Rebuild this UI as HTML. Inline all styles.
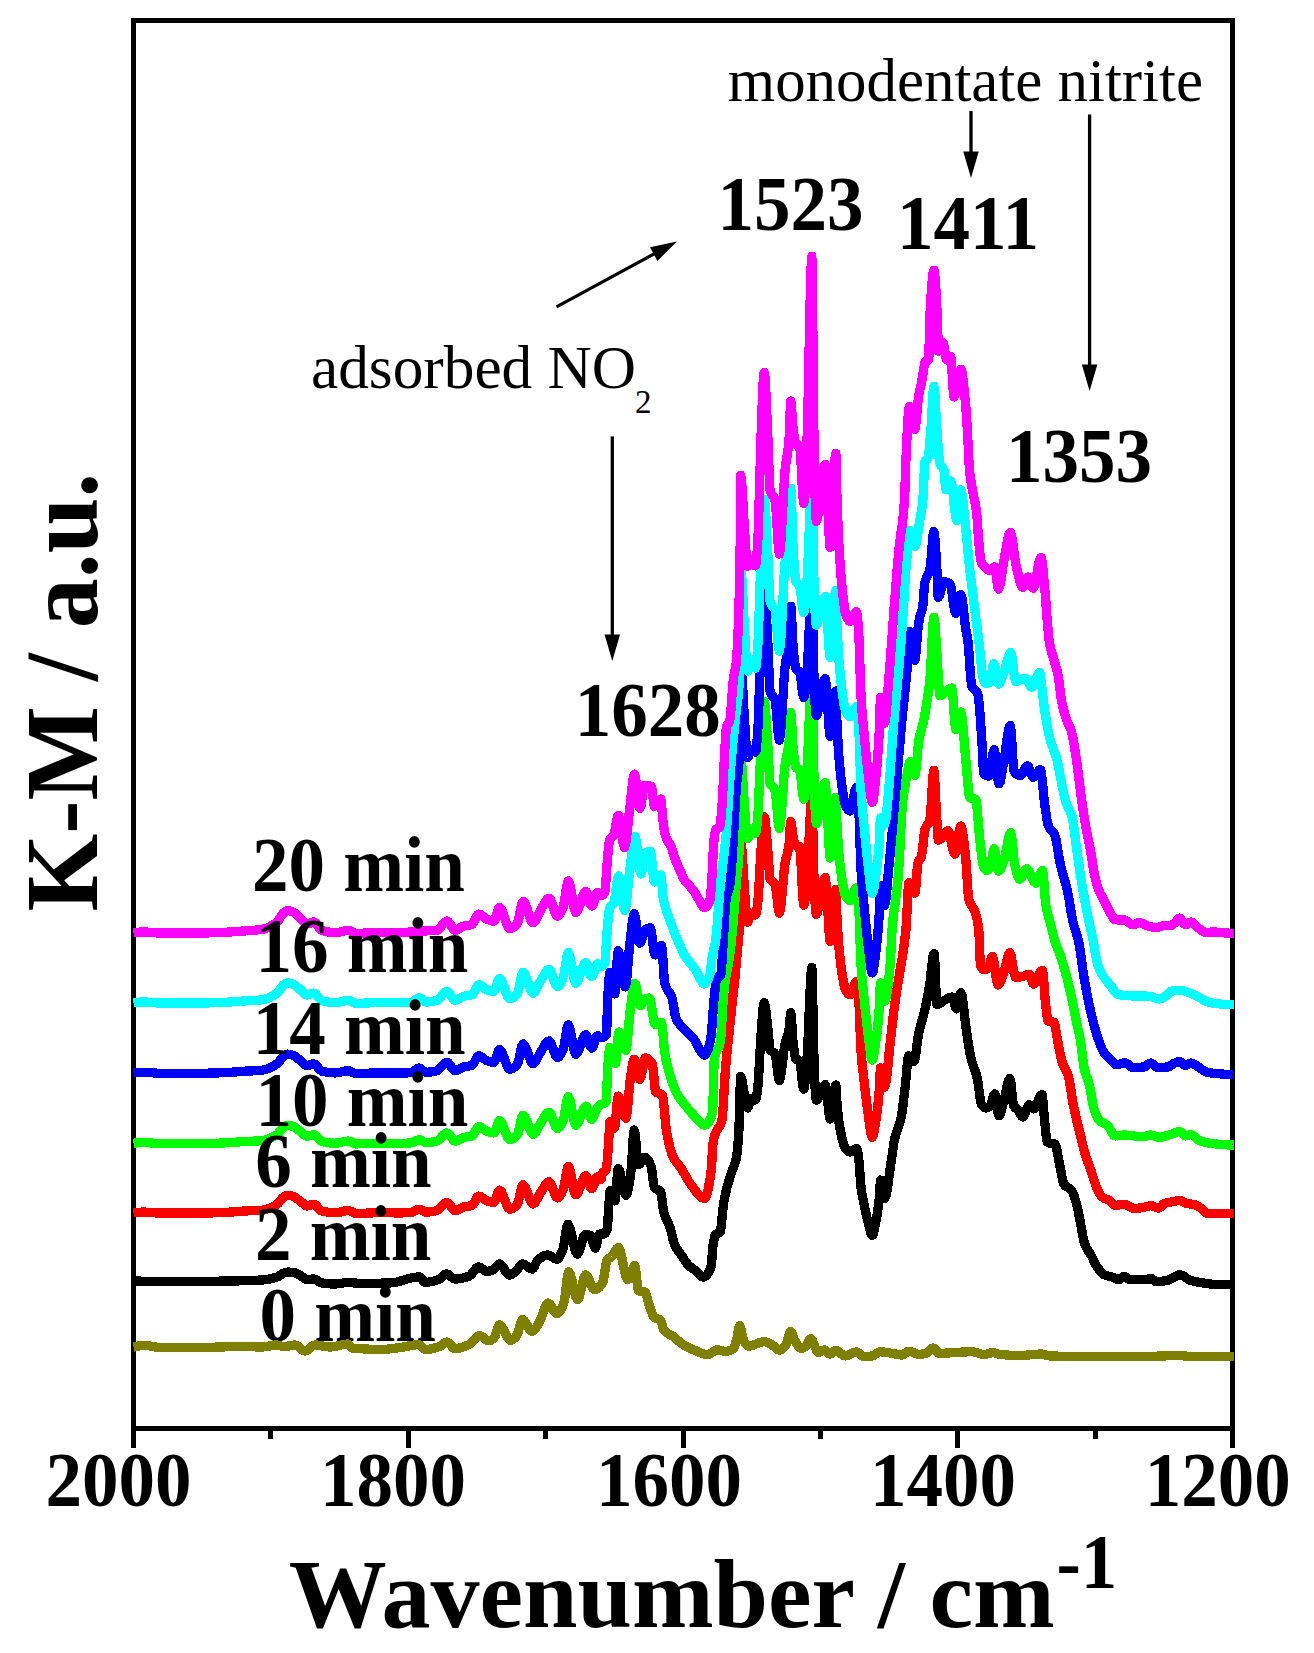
<!DOCTYPE html>
<html><head><meta charset="utf-8"><title>DRIFTS spectra</title>
<style>html,body{margin:0;padding:0;background:#fff}body{width:1314px;height:1653px;overflow:hidden}svg{display:block;position:absolute;left:0;top:0}text{font-family:"Liberation Serif",serif;fill:#000;white-space:pre}.c{fill:none;stroke-width:9.3;stroke-linejoin:round;stroke-linecap:butt}.ax{stroke:#000;fill:none}</style></head><body>
<svg width="1314" height="1653" viewBox="0 0 1314 1653">
<rect x="0" y="0" width="1314" height="1653" fill="#fff"/>
<g shape-rendering="crispEdges">
<rect x="131" y="18" width="5" height="1412" fill="#000"/>
<rect x="1230" y="18" width="5" height="1412" fill="#000"/>
<rect x="131" y="18" width="1104" height="5" fill="#000"/>
<rect x="131" y="1426" width="1104" height="4.5" fill="#000"/>
<rect x="131.0" y="1428" width="5" height="19.5" fill="#000"/>
<rect x="268.4" y="1428" width="5" height="10.5" fill="#000"/>
<rect x="405.8" y="1428" width="5" height="19.5" fill="#000"/>
<rect x="543.1" y="1428" width="5" height="10.5" fill="#000"/>
<rect x="680.5" y="1428" width="5" height="19.5" fill="#000"/>
<rect x="817.9" y="1428" width="5" height="10.5" fill="#000"/>
<rect x="955.2" y="1428" width="5" height="19.5" fill="#000"/>
<rect x="1092.6" y="1428" width="5" height="10.5" fill="#000"/>
<rect x="1230.0" y="1428" width="5" height="19.5" fill="#000"/>
</g>
<text transform="translate(259.50 1340.80) scale(1.0000 1.0600)" font-size="73" font-weight="bold">0 min</text>
<path class="c" shape-rendering="crispEdges" stroke="#808000" d="M133.5 1347.0 135.8 1346.5 138.1 1346.1 140.4 1345.8 142.7 1345.6 145.0 1345.5 148.0 1345.7 151.0 1346.2 154.0 1346.8 157.0 1347.3 160.0 1347.5 168.0 1347.5 176.0 1347.5 184.0 1347.5 192.0 1347.5 200.0 1347.5 208.0 1347.4 216.0 1347.1 224.0 1346.9 232.0 1346.6 240.0 1346.5 244.4 1346.6 248.8 1346.7 253.2 1346.8 257.6 1346.9 262.0 1347.0 265.0 1346.8 268.0 1346.3 271.0 1345.7 274.0 1345.2 277.0 1345.0 278.4 1345.2 279.8 1345.5 281.2 1346.0 282.6 1346.3 284.0 1346.5 286.2 1346.3 288.4 1346.0 290.6 1345.5 292.8 1345.2 295.0 1345.0 297.0 1345.6 299.0 1347.1 301.0 1348.9 303.0 1350.4 305.0 1351.0 307.0 1350.4 309.0 1348.9 311.0 1347.1 313.0 1345.6 315.0 1345.0 318.0 1345.2 321.0 1345.7 324.0 1346.3 327.0 1346.8 330.0 1347.0 333.6 1346.7 337.2 1345.9 340.8 1345.1 344.4 1344.3 348.0 1344.0 348.8 1344.4 349.6 1345.3 350.4 1346.5 351.2 1347.5 352.0 1348.0 353.6 1348.2 355.2 1348.3 356.8 1348.4 358.4 1348.5 360.0 1348.6 364.0 1348.9 367.9 1349.1 371.9 1349.4 375.8 1349.5 379.8 1349.6 383.8 1349.5 387.7 1349.1 391.7 1348.6 395.6 1348.1 399.6 1347.6 403.6 1347.0 407.5 1346.2 411.5 1345.5 415.4 1344.9 419.4 1344.7 420.6 1345.2 421.8 1346.4 422.9 1347.9 424.1 1349.1 425.3 1349.6 428.1 1349.4 430.8 1349.0 433.6 1348.3 436.3 1347.5 439.1 1346.6 440.7 1345.8 442.3 1344.6 443.9 1343.4 445.5 1342.5 447.1 1342.1 448.7 1342.8 450.3 1344.4 451.8 1346.3 453.4 1347.9 455.0 1348.6 457.8 1348.4 460.5 1347.8 463.3 1346.9 466.0 1345.9 468.8 1344.7 471.0 1343.2 473.2 1340.8 475.3 1338.4 477.5 1336.4 479.7 1335.6 481.5 1336.1 483.3 1337.4 485.0 1338.9 486.8 1340.2 488.6 1340.7 489.7 1340.6 490.8 1340.2 491.8 1339.6 492.9 1338.9 494.0 1338.0 495.1 1336.1 496.2 1332.7 497.3 1329.1 498.4 1326.1 499.5 1324.9 501.7 1326.5 503.9 1330.3 506.0 1334.9 508.2 1338.7 510.4 1340.3 511.6 1340.1 512.8 1339.4 514.1 1338.5 515.3 1337.3 516.5 1336.0 517.7 1333.4 518.9 1329.3 520.2 1324.8 521.4 1321.2 522.6 1319.7 524.5 1320.9 526.4 1323.8 528.3 1327.3 530.2 1330.2 532.1 1331.4 533.7 1330.7 535.3 1329.0 536.8 1326.5 538.4 1323.7 540.0 1320.9 541.6 1317.3 543.2 1312.7 544.8 1308.1 546.4 1304.5 548.0 1303.1 549.8 1304.2 551.6 1306.8 553.3 1309.9 555.1 1312.5 556.9 1313.6 558.3 1313.1 559.7 1311.6 561.0 1309.3 562.4 1306.4 563.8 1303.1 564.8 1298.2 565.8 1290.3 566.7 1281.6 567.7 1274.7 568.7 1271.8 570.5 1274.7 572.3 1281.6 574.0 1289.9 575.8 1296.8 577.6 1299.7 579.2 1297.1 580.8 1290.9 582.4 1283.6 584.0 1277.4 585.6 1274.8 587.4 1276.4 589.2 1280.1 590.9 1284.5 592.7 1288.2 594.5 1289.8 596.1 1289.5 597.7 1288.6 599.3 1287.2 600.9 1285.3 602.5 1283.0 603.5 1279.8 604.4 1274.2 605.4 1267.9 606.3 1262.5 607.3 1259.6 607.7 1259.2 608.2 1258.9 608.6 1258.6 609.1 1258.4 609.5 1258.1 610.0 1257.7 610.5 1257.3 611.0 1256.9 611.5 1256.5 612.0 1256.0 613.3 1254.3 614.6 1252.1 615.9 1249.9 617.2 1248.3 618.5 1247.6 620.3 1250.9 622.1 1258.8 624.0 1268.3 625.8 1276.2 627.6 1279.5 628.3 1279.2 629.0 1278.5 629.6 1277.4 630.3 1276.2 631.0 1275.0 631.7 1273.2 632.5 1270.7 633.2 1268.2 634.0 1266.3 634.7 1265.5 635.5 1268.1 636.3 1274.3 637.0 1281.7 637.8 1288.0 638.6 1290.8 639.9 1291.1 641.1 1291.3 642.4 1291.4 643.6 1291.6 644.9 1291.9 645.8 1293.2 646.8 1296.1 647.7 1299.7 648.7 1303.4 649.6 1306.5 650.5 1309.1 651.5 1311.8 652.4 1314.3 653.4 1316.3 654.3 1317.5 655.6 1318.2 656.8 1318.6 658.1 1319.0 659.3 1319.4 660.6 1320.2 661.2 1321.4 661.9 1323.7 662.5 1326.3 663.2 1328.6 663.8 1330.1 665.7 1332.0 667.6 1333.3 669.4 1334.3 671.3 1335.2 673.2 1336.4 675.1 1337.9 677.0 1339.6 678.8 1341.3 680.7 1342.9 682.6 1344.3 684.8 1345.6 687.0 1346.8 689.2 1347.9 691.4 1348.9 693.6 1349.8 696.4 1351.0 699.3 1352.3 702.1 1353.4 705.0 1354.2 707.8 1354.5 709.7 1354.0 711.6 1352.8 713.4 1351.5 715.3 1350.3 717.2 1349.8 718.8 1350.0 720.4 1350.4 721.9 1350.8 723.5 1351.2 725.1 1351.4 726.7 1351.3 728.3 1351.0 729.8 1350.5 731.4 1349.9 733.0 1349.0 733.7 1348.2 734.4 1346.6 735.1 1344.6 735.8 1342.3 736.5 1340.0 737.2 1337.1 737.8 1333.4 738.5 1329.6 739.1 1326.8 739.8 1325.6 740.5 1326.9 741.3 1330.0 742.0 1333.9 742.8 1337.6 743.5 1340.0 744.5 1341.9 745.5 1343.6 746.5 1344.9 747.5 1345.9 748.5 1346.2 751.6 1345.7 754.7 1344.6 757.7 1343.3 760.8 1342.2 763.9 1341.7 765.3 1341.9 766.8 1342.3 768.2 1342.8 769.7 1343.5 771.1 1344.2 772.7 1345.3 774.4 1346.8 776.0 1348.4 777.7 1349.6 779.3 1350.1 780.6 1349.8 782.0 1349.1 783.3 1348.0 784.7 1346.6 786.0 1345.0 786.9 1342.8 787.8 1339.4 788.8 1335.6 789.7 1332.6 790.6 1331.4 791.5 1332.2 792.4 1334.1 793.2 1336.6 794.1 1339.1 795.0 1341.0 796.2 1343.0 797.4 1344.9 798.5 1346.6 799.7 1347.8 800.9 1348.3 801.9 1348.2 802.9 1347.8 804.0 1347.3 805.0 1346.7 806.0 1346.0 806.9 1344.8 807.9 1343.0 808.8 1341.0 809.8 1339.4 810.7 1338.8 812.2 1340.2 813.8 1343.6 815.3 1347.6 816.9 1351.0 818.4 1352.4 819.6 1352.1 820.8 1351.5 822.1 1350.8 823.3 1350.2 824.5 1349.9 825.6 1350.3 826.7 1351.3 827.8 1352.6 828.9 1353.6 830.0 1354.0 831.2 1353.6 832.3 1352.8 833.5 1351.7 834.6 1350.9 835.8 1350.5 837.7 1351.1 839.5 1352.4 841.4 1354.0 843.2 1355.3 845.1 1355.9 847.4 1355.5 849.6 1354.5 851.9 1353.4 854.1 1352.4 856.4 1352.0 857.8 1352.5 859.3 1353.6 860.7 1354.9 862.2 1356.0 863.6 1356.5 865.3 1356.5 867.0 1356.4 868.6 1356.3 870.3 1356.2 872.0 1356.0 873.6 1355.5 875.2 1354.4 876.8 1353.2 878.4 1352.2 880.0 1351.8 882.9 1351.9 885.8 1352.3 888.6 1352.8 891.5 1353.3 894.4 1353.8 895.9 1354.1 897.4 1354.4 899.0 1354.7 900.5 1354.9 902.0 1355.0 903.4 1354.6 904.7 1353.7 906.1 1352.5 907.4 1351.6 908.8 1351.2 910.8 1351.5 912.9 1352.3 914.9 1353.3 917.0 1354.1 919.0 1354.4 920.6 1354.3 922.2 1354.1 923.8 1353.8 925.4 1353.5 927.0 1353.0 928.2 1352.2 929.4 1350.9 930.6 1349.5 931.8 1348.4 933.0 1347.9 934.3 1348.5 935.6 1349.8 937.0 1351.5 938.3 1352.8 939.6 1353.4 942.9 1353.3 946.2 1353.1 949.4 1352.9 952.7 1352.6 956.0 1352.4 959.3 1352.2 962.6 1352.1 965.8 1351.9 969.1 1351.8 972.4 1351.8 974.7 1352.1 977.0 1352.8 979.4 1353.5 981.7 1354.2 984.0 1354.5 985.8 1354.3 987.6 1353.8 989.4 1353.3 991.2 1352.8 993.0 1352.6 994.4 1352.8 995.8 1353.2 997.2 1353.7 998.6 1354.1 1000.0 1354.4 1004.0 1354.8 1008.0 1355.1 1012.0 1355.3 1016.0 1355.5 1020.0 1355.5 1024.2 1355.3 1028.4 1355.0 1032.6 1354.5 1036.8 1354.2 1041.0 1354.0 1042.8 1354.2 1044.6 1354.7 1046.4 1355.3 1048.2 1355.8 1050.0 1356.0 1060.0 1356.2 1070.0 1356.4 1080.0 1356.4 1090.0 1356.5 1100.0 1356.5 1110.0 1356.5 1120.0 1356.5 1130.0 1356.4 1140.0 1356.4 1150.0 1356.3 1156.0 1356.2 1162.0 1356.0 1168.0 1355.8 1174.0 1355.6 1180.0 1355.5 1182.0 1355.6 1184.0 1355.9 1186.0 1356.1 1188.0 1356.4 1190.0 1356.5 1198.5 1356.5 1207.0 1356.5 1215.5 1356.5 1224.0 1356.5 1232.5 1356.5 1234.3 1356.5"/>
<path class="c" shape-rendering="crispEdges" stroke="#000000" d="M133.5 1281.0 138.8 1281.1 144.1 1281.3 149.4 1281.4 154.7 1281.5 160.0 1281.5 174.0 1281.5 188.0 1281.4 202.0 1281.3 216.0 1281.2 230.0 1281.0 236.4 1280.9 242.8 1280.8 249.2 1280.6 255.6 1280.3 262.0 1280.0 265.0 1279.7 268.0 1279.3 271.0 1278.7 274.0 1277.9 277.0 1277.0 278.4 1276.4 279.8 1275.5 281.2 1274.5 282.6 1273.6 284.0 1273.0 284.8 1272.7 285.6 1272.5 286.4 1272.3 287.2 1272.2 288.0 1272.1 289.2 1272.1 290.4 1272.2 291.6 1272.3 292.8 1272.4 294.0 1272.5 295.4 1272.8 296.8 1273.5 298.2 1274.3 299.6 1275.2 301.0 1276.0 302.2 1276.8 303.4 1277.7 304.6 1278.6 305.8 1279.2 307.0 1279.5 308.3 1279.4 309.7 1279.3 311.0 1279.2 312.4 1279.1 313.7 1279.0 315.4 1279.4 317.0 1280.3 318.7 1281.4 320.3 1282.4 322.0 1283.0 324.6 1283.3 327.2 1283.6 329.8 1283.8 332.4 1284.0 335.0 1284.0 337.6 1283.8 340.2 1283.5 342.8 1283.0 345.4 1282.7 348.0 1282.5 350.4 1282.6 352.8 1282.8 355.2 1283.0 357.6 1283.2 360.0 1283.3 366.0 1283.3 372.0 1283.2 378.0 1283.2 384.0 1283.1 390.0 1283.0 395.9 1282.3 401.8 1280.7 407.6 1278.9 413.5 1277.4 419.4 1276.8 420.6 1277.4 421.8 1278.7 422.9 1280.4 424.1 1281.7 425.3 1282.3 428.1 1282.2 430.8 1281.7 433.6 1281.1 436.3 1280.3 439.1 1279.4 440.6 1278.5 442.1 1277.1 443.5 1275.5 445.0 1274.3 446.5 1273.8 448.2 1274.3 449.9 1275.6 451.6 1277.2 453.3 1278.5 455.0 1279.0 457.8 1278.9 460.5 1278.5 463.3 1278.0 466.0 1277.2 468.8 1276.4 470.8 1275.0 472.8 1272.6 474.7 1269.9 476.7 1267.8 478.7 1266.9 480.3 1267.4 481.9 1268.5 483.4 1269.8 485.0 1270.9 486.6 1271.4 487.9 1271.3 489.2 1271.1 490.4 1270.8 491.7 1270.4 493.0 1270.0 494.3 1269.1 495.6 1267.5 496.9 1265.8 498.2 1264.5 499.5 1263.9 501.5 1265.1 503.5 1267.8 505.4 1271.1 507.4 1273.8 509.4 1275.0 510.7 1274.7 512.0 1274.1 513.4 1273.1 514.7 1272.1 516.0 1271.0 517.3 1269.6 518.6 1267.8 520.0 1265.9 521.3 1264.5 522.6 1263.9 524.5 1264.4 526.4 1265.7 528.3 1267.3 530.2 1268.6 532.1 1269.1 533.3 1268.3 534.5 1266.2 535.7 1263.6 536.9 1261.2 538.1 1259.6 540.1 1258.2 542.1 1256.9 544.0 1255.9 546.0 1255.2 548.0 1255.0 549.8 1255.4 551.6 1256.5 553.3 1257.7 555.1 1258.8 556.9 1259.2 558.1 1258.7 559.3 1257.3 560.4 1255.1 561.6 1252.5 562.8 1249.7 563.8 1245.4 564.8 1238.9 565.9 1232.0 566.9 1226.5 567.9 1224.3 569.8 1227.4 571.7 1234.9 573.5 1243.7 575.4 1251.2 577.3 1254.3 578.9 1252.2 580.5 1247.3 582.0 1241.5 583.6 1236.6 585.2 1234.5 586.2 1234.5 587.1 1234.6 588.1 1234.8 589.0 1235.0 590.0 1235.3 591.1 1236.8 592.2 1240.0 593.2 1243.8 594.3 1246.8 595.4 1248.1 596.2 1246.7 597.0 1243.2 597.7 1239.1 598.5 1235.7 599.3 1234.2 600.2 1234.1 601.2 1234.1 602.1 1234.1 603.1 1234.1 604.0 1234.0 604.6 1233.8 605.3 1233.2 605.9 1232.2 606.6 1230.8 607.2 1229.0 607.5 1226.8 607.8 1222.5 608.1 1217.3 608.4 1212.0 608.7 1207.5 609.0 1203.2 609.3 1198.6 609.7 1194.4 610.0 1191.4 610.3 1190.2 611.2 1191.3 612.2 1194.0 613.1 1197.1 614.1 1199.8 615.0 1200.9 615.6 1197.5 616.3 1189.5 616.9 1179.9 617.6 1171.9 618.2 1168.5 619.8 1171.3 621.3 1178.0 622.9 1185.9 624.4 1192.6 626.0 1195.4 627.0 1194.1 627.9 1190.7 628.9 1185.7 629.8 1179.6 630.8 1172.9 631.5 1165.4 632.2 1154.4 632.8 1142.8 633.5 1133.7 634.2 1130.0 635.1 1133.6 636.0 1142.2 636.8 1152.5 637.7 1161.1 638.6 1164.7 639.9 1164.0 641.1 1162.2 642.4 1160.0 643.6 1158.2 644.9 1157.5 646.2 1157.9 647.4 1159.2 648.7 1161.1 649.9 1163.6 651.2 1166.6 651.8 1169.6 652.4 1174.5 653.1 1179.9 653.7 1184.5 654.3 1187.0 655.6 1188.4 656.8 1189.2 658.1 1189.7 659.3 1190.4 660.6 1191.8 661.2 1194.1 661.9 1198.5 662.5 1203.7 663.2 1208.7 663.8 1212.2 665.1 1216.3 666.3 1219.3 667.6 1221.9 668.8 1224.6 670.1 1227.9 671.0 1231.2 672.0 1235.0 672.9 1239.0 673.9 1242.5 674.8 1245.2 676.1 1247.7 677.3 1249.6 678.6 1251.4 679.8 1253.0 681.1 1254.7 682.7 1257.1 684.2 1259.5 685.8 1261.8 687.3 1264.0 688.9 1265.7 690.2 1266.8 691.4 1267.8 692.7 1268.6 693.9 1269.5 695.2 1270.4 696.8 1271.9 698.4 1273.7 699.9 1275.3 701.5 1276.6 703.1 1277.1 704.7 1276.7 706.2 1275.6 707.8 1273.6 709.3 1270.8 710.9 1267.2 711.4 1264.4 711.9 1259.3 712.3 1253.2 712.8 1247.6 713.3 1243.6 713.8 1241.0 714.3 1238.5 714.7 1236.5 715.2 1235.0 715.7 1234.2 716.6 1233.7 717.4 1233.4 718.3 1233.3 719.1 1233.0 720.0 1232.5 720.7 1229.9 721.4 1224.2 722.1 1217.0 722.8 1209.9 723.5 1204.3 724.1 1200.6 724.8 1197.2 725.4 1194.1 726.1 1191.3 726.7 1188.6 727.6 1185.0 728.6 1181.8 729.5 1178.8 730.5 1175.9 731.4 1172.9 732.4 1170.0 733.4 1167.5 734.5 1164.9 735.5 1161.7 736.5 1157.2 736.9 1154.4 737.4 1150.7 737.8 1145.9 738.3 1140.2 738.7 1133.6 738.9 1130.1 739.1 1125.7 739.2 1120.7 739.4 1115.4 739.6 1110.0 739.8 1102.7 740.0 1093.9 740.2 1085.4 740.4 1079.0 740.6 1076.4 741.5 1078.0 742.4 1082.1 743.2 1087.6 744.1 1093.2 745.0 1097.9 745.5 1100.4 746.0 1103.0 746.5 1105.5 747.0 1107.3 747.5 1108.0 748.3 1107.0 749.1 1104.7 749.9 1101.9 750.7 1099.6 751.5 1098.6 752.3 1098.7 753.1 1099.1 753.9 1099.5 754.7 1099.9 755.5 1100.0 756.0 1099.2 756.5 1097.0 757.0 1093.7 757.5 1089.7 758.0 1085.4 758.4 1080.6 758.8 1073.9 759.2 1066.3 759.6 1058.7 760.0 1052.2 760.8 1039.5 761.6 1026.3 762.5 1014.4 763.3 1005.8 764.1 1002.5 764.9 1004.3 765.7 1008.9 766.4 1015.3 767.2 1022.6 768.0 1029.6 768.4 1033.7 768.8 1038.7 769.2 1043.7 769.6 1047.6 770.0 1049.6 771.0 1050.9 772.0 1051.5 773.0 1052.0 774.0 1052.5 775.0 1053.6 775.9 1057.2 776.8 1064.0 777.6 1071.6 778.5 1077.9 779.4 1080.5 780.5 1077.5 781.6 1069.9 782.8 1060.2 783.9 1050.7 785.0 1043.7 785.8 1040.7 786.6 1038.4 787.4 1036.2 788.2 1033.6 789.0 1030.0 789.4 1026.9 789.7 1022.5 790.1 1017.9 790.4 1014.2 790.8 1012.7 791.2 1015.2 791.7 1021.3 792.1 1029.0 792.6 1036.6 793.0 1041.9 793.6 1046.8 794.2 1051.2 794.8 1055.0 795.4 1057.8 796.0 1059.2 796.7 1059.9 797.4 1060.2 798.2 1060.5 798.9 1060.8 799.6 1061.4 800.4 1064.9 801.3 1071.8 802.1 1079.8 803.0 1086.5 803.8 1089.2 804.4 1087.4 805.1 1082.6 805.7 1075.6 806.4 1067.4 807.0 1058.7 807.3 1054.2 807.6 1048.7 807.9 1042.5 808.2 1036.0 808.5 1029.4 808.8 1022.1 809.1 1014.0 809.4 1005.8 809.7 998.2 810.0 991.9 810.4 985.3 810.7 978.7 811.1 973.0 811.4 968.9 811.8 967.4 811.9 969.2 812.1 973.7 812.2 979.8 812.4 986.4 812.5 992.3 812.7 999.4 812.9 1006.4 813.1 1013.6 813.3 1021.4 813.5 1030.4 813.6 1036.2 813.7 1043.2 813.8 1050.4 813.9 1056.6 814.0 1060.9 814.5 1074.1 815.0 1085.0 815.4 1093.2 815.9 1098.4 816.4 1100.2 817.5 1099.3 818.6 1097.1 819.8 1094.2 820.9 1091.3 822.0 1089.0 822.6 1087.9 823.3 1086.7 823.9 1085.7 824.6 1085.0 825.2 1084.7 825.6 1085.4 825.9 1087.3 826.3 1089.9 826.6 1092.7 827.0 1095.3 827.6 1100.4 828.3 1106.6 828.9 1112.7 829.6 1117.2 830.2 1119.0 830.8 1117.8 831.3 1114.6 831.9 1110.3 832.4 1105.8 833.0 1101.9 833.6 1097.9 834.1 1093.5 834.7 1089.3 835.2 1086.2 835.8 1085.0 836.0 1086.2 836.2 1089.2 836.4 1093.2 836.6 1097.2 836.8 1100.4 837.3 1106.1 837.8 1111.3 838.2 1115.9 838.7 1120.1 839.2 1123.5 840.0 1128.4 840.8 1132.6 841.5 1136.3 842.3 1139.5 843.1 1142.4 843.6 1144.0 844.0 1145.5 844.5 1146.8 844.9 1147.9 845.4 1148.7 846.4 1149.8 847.3 1150.7 848.3 1151.4 849.2 1151.8 850.2 1152.0 851.4 1151.6 852.7 1150.8 853.9 1149.7 855.2 1148.9 856.4 1148.5 856.8 1148.9 857.2 1150.1 857.7 1151.9 858.1 1154.0 858.5 1156.3 859.0 1160.9 859.6 1168.0 860.1 1175.9 860.7 1183.3 861.2 1188.8 861.7 1191.9 862.1 1194.5 862.6 1196.8 863.0 1199.0 863.5 1201.2 864.4 1205.9 865.4 1210.5 866.3 1214.9 867.3 1219.0 868.2 1222.7 869.0 1226.0 869.8 1229.4 870.6 1232.4 871.4 1234.7 872.2 1235.5 873.0 1234.6 873.8 1232.2 874.5 1228.7 875.3 1224.7 876.1 1220.7 876.8 1217.0 877.5 1212.9 878.1 1208.1 878.8 1202.4 879.5 1195.7 879.7 1192.7 879.9 1188.6 880.1 1184.5 880.3 1181.3 880.5 1180.0 881.3 1181.9 882.2 1186.5 883.0 1192.0 883.9 1196.6 884.7 1198.5 886.0 1195.9 887.3 1189.3 888.6 1180.2 889.9 1170.4 891.2 1161.4 891.9 1157.0 892.5 1152.3 893.2 1147.6 893.8 1143.3 894.5 1139.7 895.8 1134.6 897.1 1130.7 898.4 1127.1 899.7 1123.2 901.0 1117.9 901.9 1113.0 902.8 1106.9 903.6 1099.9 904.5 1092.6 905.4 1085.2 906.0 1078.8 906.7 1071.0 907.3 1063.6 908.0 1058.0 908.6 1055.8 909.7 1056.4 910.8 1057.7 911.9 1059.3 913.0 1060.6 914.1 1061.2 915.0 1059.2 915.8 1054.0 916.7 1047.3 917.5 1040.5 918.4 1035.1 919.7 1029.2 921.0 1024.1 922.4 1019.3 923.7 1014.4 925.0 1008.9 925.9 1005.0 926.7 1000.9 927.6 996.6 928.4 992.0 929.3 987.1 930.3 980.0 931.2 971.2 932.2 962.6 933.1 956.0 934.1 953.4 934.7 958.7 935.3 971.4 935.8 986.6 936.4 999.3 937.0 1004.6 938.5 1004.3 940.0 1003.4 941.6 1002.3 943.1 1001.1 944.6 1000.2 946.1 999.4 947.6 998.5 949.2 997.8 950.7 997.2 952.2 997.0 953.1 998.2 954.0 1001.2 954.8 1004.7 955.7 1007.7 956.6 1008.9 957.5 1007.2 958.3 1003.2 959.2 998.3 960.0 994.3 960.9 992.6 962.0 995.4 963.1 1002.6 964.2 1012.2 965.3 1022.2 966.4 1030.7 967.3 1036.4 968.1 1042.1 969.0 1047.6 969.8 1052.7 970.7 1056.9 972.0 1061.9 973.3 1065.9 974.7 1069.6 976.0 1073.6 977.3 1078.6 978.2 1083.5 979.0 1090.0 979.9 1096.6 980.7 1102.0 981.6 1104.8 982.5 1105.9 983.4 1106.8 984.2 1107.4 985.1 1107.9 986.0 1108.0 986.8 1107.9 987.6 1107.6 988.4 1107.2 989.2 1106.6 990.0 1106.0 990.9 1104.2 991.9 1101.2 992.8 1097.8 993.8 1095.0 994.7 1093.9 995.6 1096.2 996.4 1101.6 997.3 1108.0 998.1 1113.4 999.0 1115.7 1000.0 1114.6 1001.0 1111.8 1002.0 1108.0 1003.0 1103.8 1004.0 1100.0 1005.2 1095.2 1006.4 1089.6 1007.5 1084.2 1008.7 1080.1 1009.9 1078.5 1010.7 1081.1 1011.4 1087.5 1012.2 1095.2 1012.9 1102.1 1013.7 1105.8 1014.6 1107.0 1015.4 1107.9 1016.3 1108.5 1017.1 1109.2 1018.0 1110.0 1019.0 1111.5 1020.0 1113.3 1020.9 1115.1 1021.9 1116.5 1022.9 1117.0 1024.2 1115.7 1025.5 1112.7 1026.7 1109.1 1028.0 1106.1 1029.3 1104.8 1030.2 1105.2 1031.1 1106.2 1032.0 1107.5 1032.9 1108.5 1033.8 1108.9 1035.4 1107.4 1037.1 1103.8 1038.7 1099.5 1040.4 1095.9 1042.0 1094.4 1042.5 1096.6 1043.1 1102.0 1043.6 1109.1 1044.2 1116.4 1044.7 1122.2 1045.3 1127.3 1045.8 1132.5 1046.4 1137.3 1046.9 1140.8 1047.5 1142.3 1049.0 1142.9 1050.4 1143.2 1051.9 1143.3 1053.3 1143.6 1054.8 1144.1 1055.9 1146.1 1057.0 1150.5 1058.1 1156.3 1059.2 1162.4 1060.3 1167.9 1061.0 1171.5 1061.7 1175.5 1062.5 1179.3 1063.2 1182.5 1063.9 1184.3 1065.4 1185.9 1066.8 1186.9 1068.3 1187.6 1069.7 1188.4 1071.2 1189.8 1072.3 1191.5 1073.4 1194.0 1074.5 1197.1 1075.6 1200.6 1076.7 1204.4 1077.4 1207.4 1078.2 1210.9 1078.9 1214.8 1079.7 1218.8 1080.4 1222.6 1081.3 1227.3 1082.2 1232.4 1083.1 1237.3 1084.0 1241.5 1084.9 1244.6 1086.2 1247.5 1087.5 1249.7 1088.7 1251.6 1090.0 1253.4 1091.3 1255.5 1092.4 1257.7 1093.5 1260.1 1094.6 1262.4 1095.7 1264.7 1096.8 1266.5 1098.3 1268.6 1099.7 1270.6 1101.2 1272.3 1102.6 1273.7 1104.1 1274.7 1105.9 1275.4 1107.7 1276.0 1109.6 1276.4 1111.4 1276.9 1113.2 1277.4 1114.3 1277.9 1115.4 1278.4 1116.5 1279.0 1117.6 1279.4 1118.7 1279.6 1119.8 1279.3 1120.9 1278.5 1122.0 1277.6 1123.1 1276.8 1124.2 1276.5 1125.3 1276.8 1126.4 1277.6 1127.5 1278.5 1128.6 1279.3 1129.7 1279.6 1133.0 1279.6 1136.3 1279.6 1139.5 1279.6 1142.8 1279.6 1146.1 1279.6 1147.0 1279.5 1147.9 1279.2 1148.9 1278.9 1149.8 1278.6 1150.7 1278.5 1151.8 1278.8 1152.9 1279.6 1154.0 1280.4 1155.1 1281.2 1156.2 1281.5 1158.6 1281.4 1160.9 1281.3 1163.3 1281.0 1165.6 1280.6 1168.0 1280.2 1169.5 1279.7 1170.9 1279.0 1172.4 1278.1 1173.8 1277.2 1175.3 1276.5 1176.2 1276.1 1177.1 1275.6 1178.1 1275.1 1179.0 1274.8 1179.9 1274.7 1181.9 1275.2 1183.9 1276.3 1186.0 1277.8 1188.0 1279.2 1190.0 1280.2 1192.2 1280.8 1194.4 1281.4 1196.5 1281.8 1198.7 1282.2 1200.9 1282.6 1203.8 1283.1 1206.7 1283.5 1209.7 1283.9 1212.6 1284.2 1215.5 1284.4 1218.9 1284.5 1222.3 1284.6 1225.7 1284.6 1229.1 1284.7 1232.5 1284.7 1234.3 1284.7"/>
<path class="c" shape-rendering="crispEdges" stroke="#ff0000" d="M133.5 1212.7 135.6 1212.5 137.7 1212.3 139.8 1212.2 141.9 1212.1 144.0 1212.1 147.2 1212.2 150.4 1212.5 153.6 1212.7 156.8 1213.0 160.0 1213.1 168.0 1213.1 176.0 1213.1 184.0 1213.1 192.0 1213.1 200.0 1213.1 206.0 1213.0 212.0 1212.9 218.0 1212.7 224.0 1212.4 230.0 1212.1 233.0 1211.9 236.0 1211.7 239.0 1211.4 242.0 1211.2 245.0 1211.0 248.4 1210.8 251.8 1210.7 255.2 1210.6 258.6 1210.5 262.0 1210.2 265.0 1209.7 268.0 1208.8 271.0 1207.6 274.0 1206.1 277.0 1204.3 278.4 1203.1 279.8 1201.4 281.2 1199.5 282.6 1197.8 284.0 1196.7 284.7 1196.3 285.5 1195.9 286.2 1195.6 287.0 1195.3 287.7 1195.3 288.8 1195.3 289.8 1195.5 290.9 1195.7 291.9 1196.0 293.0 1196.3 294.6 1197.0 296.2 1198.0 297.8 1199.3 299.4 1200.5 301.0 1201.7 302.2 1202.7 303.4 1203.8 304.6 1204.8 305.8 1205.6 307.0 1205.9 308.3 1205.7 309.7 1205.3 311.0 1204.9 312.4 1204.5 313.7 1204.3 315.4 1204.9 317.0 1206.5 318.7 1208.4 320.3 1210.2 322.0 1211.1 324.6 1211.6 327.2 1212.1 329.8 1212.4 332.4 1212.6 335.0 1212.7 337.7 1212.5 340.4 1212.0 343.0 1211.3 345.7 1210.8 348.4 1210.6 349.9 1210.9 351.4 1211.6 353.0 1212.4 354.5 1213.1 356.0 1213.4 360.8 1213.3 365.6 1213.2 370.4 1212.9 375.2 1212.8 380.0 1212.7 384.0 1212.7 388.0 1212.8 392.0 1212.8 396.0 1212.9 400.0 1212.9 402.3 1212.9 404.6 1212.8 406.9 1212.7 409.2 1212.5 411.5 1212.3 413.0 1211.9 414.5 1211.1 416.0 1210.3 417.5 1209.6 419.0 1209.3 420.4 1209.6 421.8 1210.3 423.2 1211.1 424.6 1211.8 426.0 1212.1 428.2 1212.0 430.3 1211.8 432.5 1211.5 434.6 1211.1 436.8 1210.7 438.8 1209.5 440.8 1207.4 442.9 1205.1 444.9 1203.2 446.9 1202.4 448.6 1203.3 450.2 1205.3 451.9 1207.8 453.5 1209.8 455.2 1210.7 456.9 1210.3 458.6 1209.5 460.2 1208.5 461.9 1207.6 463.6 1206.9 465.3 1206.6 467.0 1206.3 468.6 1206.1 470.3 1205.9 472.0 1205.4 473.3 1204.2 474.7 1201.9 476.0 1199.2 477.4 1197.0 478.7 1196.1 480.4 1196.5 482.1 1197.5 483.7 1198.8 485.4 1200.0 487.1 1200.9 488.4 1201.3 489.8 1201.7 491.1 1202.1 492.5 1202.3 493.8 1202.4 495.0 1201.1 496.1 1198.0 497.3 1194.4 498.4 1191.3 499.6 1190.1 501.6 1192.0 503.6 1196.8 505.7 1202.4 507.7 1207.2 509.7 1209.1 511.2 1208.9 512.7 1208.3 514.2 1207.4 515.7 1206.1 517.2 1204.6 518.4 1201.8 519.6 1196.7 520.7 1191.1 521.9 1186.5 523.1 1184.7 525.1 1186.7 527.1 1191.4 529.1 1197.1 531.1 1201.9 533.1 1203.9 534.6 1203.1 536.1 1200.9 537.6 1198.1 539.1 1195.1 540.6 1192.6 542.3 1190.0 544.0 1187.1 545.6 1184.5 547.3 1182.5 549.0 1181.8 550.7 1183.5 552.4 1187.5 554.0 1192.2 555.7 1196.2 557.4 1197.9 558.6 1197.4 559.7 1196.2 560.9 1194.4 562.0 1192.1 563.2 1189.6 564.2 1185.7 565.2 1179.8 566.3 1173.4 567.3 1168.3 568.3 1166.2 569.8 1169.2 571.3 1176.3 572.8 1184.8 574.3 1191.9 575.8 1194.8 577.8 1192.8 579.8 1188.1 581.8 1182.3 583.8 1177.6 585.8 1175.6 587.0 1176.9 588.2 1180.2 589.3 1184.1 590.5 1187.4 591.7 1188.8 592.9 1187.5 594.1 1184.6 595.2 1181.0 596.4 1178.0 597.6 1176.7 598.3 1177.0 599.0 1177.7 599.6 1178.4 600.3 1179.1 601.0 1179.3 601.3 1178.8 601.6 1177.3 601.9 1175.5 602.2 1173.9 602.5 1172.9 603.2 1172.1 603.9 1171.6 604.6 1171.3 605.3 1170.8 606.0 1170.0 606.5 1167.6 607.1 1162.7 607.6 1156.2 608.2 1148.8 608.7 1141.4 608.9 1137.3 609.2 1132.2 609.4 1127.2 609.7 1123.3 609.9 1121.8 610.8 1122.4 611.7 1124.0 612.7 1125.8 613.6 1127.4 614.5 1128.0 615.2 1124.7 616.0 1116.8 616.7 1107.3 617.5 1099.4 618.2 1096.1 619.7 1098.4 621.3 1103.9 622.8 1110.6 624.4 1116.1 625.9 1118.4 626.7 1115.4 627.6 1107.8 628.4 1098.0 629.3 1088.3 630.1 1080.8 630.9 1075.1 631.7 1069.3 632.6 1064.2 633.4 1060.6 634.2 1059.2 635.3 1061.3 636.4 1066.3 637.6 1072.3 638.7 1077.3 639.8 1079.4 640.9 1077.2 642.0 1071.8 643.2 1065.5 644.3 1060.1 645.4 1057.9 646.8 1058.2 648.2 1058.9 649.5 1060.2 650.9 1061.9 652.3 1064.1 653.0 1067.7 653.7 1074.5 654.4 1082.2 655.1 1088.8 655.8 1091.9 657.1 1092.8 658.3 1093.2 659.6 1093.5 660.8 1093.9 662.1 1094.7 663.1 1098.5 664.0 1106.6 665.0 1116.7 665.9 1126.5 666.9 1133.6 668.2 1139.8 669.4 1145.4 670.7 1150.2 671.9 1154.1 673.2 1157.2 674.8 1160.0 676.4 1162.3 677.9 1164.2 679.5 1166.0 681.1 1168.2 683.0 1171.3 684.9 1174.6 686.7 1178.0 688.6 1181.2 690.5 1183.9 693.3 1187.8 696.2 1191.7 699.0 1195.1 701.9 1197.6 704.7 1198.5 705.9 1197.2 707.2 1193.5 708.4 1188.0 709.7 1181.0 710.9 1172.9 711.4 1168.0 711.9 1160.8 712.3 1152.9 712.8 1145.9 713.3 1141.4 713.8 1139.0 714.3 1137.0 714.7 1135.4 715.2 1134.0 715.7 1132.7 717.0 1130.0 718.2 1128.1 719.5 1126.4 720.7 1124.0 722.0 1120.1 722.6 1114.9 723.3 1105.5 723.9 1094.0 724.6 1082.5 725.2 1073.0 726.4 1058.7 727.7 1045.9 728.9 1033.9 730.2 1022.2 731.4 1010.1 732.7 998.1 733.9 986.9 735.2 975.4 736.4 962.5 737.7 947.2 738.2 941.4 738.7 936.2 739.3 929.2 739.8 918.0 740.3 900.0 740.4 892.3 740.4 877.5 740.5 860.8 740.5 847.1 740.6 841.4 741.5 845.5 742.4 856.0 743.2 869.9 744.1 884.4 745.0 896.4 745.5 902.7 746.0 909.5 746.5 915.8 747.0 920.4 747.5 922.2 748.3 921.3 749.1 919.0 749.9 916.4 750.7 914.1 751.5 913.2 752.3 913.4 753.1 913.8 753.9 914.4 754.7 914.8 755.5 915.0 756.0 914.2 756.5 911.9 757.0 908.7 757.5 904.7 758.0 900.3 758.4 895.5 758.8 888.7 759.2 881.0 759.6 873.4 760.0 866.8 760.8 854.1 761.6 840.7 762.5 828.7 763.3 820.1 764.1 816.8 764.9 819.1 765.7 825.2 766.4 833.7 767.2 843.2 768.0 852.4 768.4 857.8 768.8 864.4 769.2 870.9 769.6 876.1 770.0 878.7 771.0 880.4 772.0 881.3 773.0 881.9 774.0 882.6 775.0 884.0 775.9 888.1 776.8 895.4 777.6 903.6 778.5 910.3 779.4 913.1 780.5 909.0 781.6 898.8 782.8 885.7 783.9 872.9 785.0 863.4 785.8 859.3 786.6 856.2 787.4 853.3 788.2 849.7 789.0 844.8 789.4 840.7 789.7 834.7 790.1 828.5 790.4 823.5 790.8 821.5 791.2 822.8 791.7 825.9 792.1 830.0 792.6 833.9 793.0 836.6 793.6 839.1 794.2 841.4 794.8 843.4 795.4 844.8 796.0 845.6 796.7 845.9 797.4 846.1 798.2 846.2 798.9 846.4 799.6 846.7 800.4 853.1 801.3 867.7 802.1 884.8 803.0 899.2 803.8 905.2 804.4 903.6 805.1 899.4 805.7 893.3 806.4 886.0 807.0 878.4 807.3 874.4 807.6 869.6 807.9 864.2 808.2 858.5 808.5 852.6 808.8 846.3 809.1 839.1 809.4 831.9 809.7 825.2 810.0 819.7 810.4 813.9 810.7 808.1 811.1 803.1 811.4 799.5 811.8 798.2 811.9 799.7 812.1 803.7 812.2 809.1 812.4 814.8 812.5 820.0 812.7 826.2 812.9 832.3 813.1 838.6 813.3 845.4 813.5 853.3 813.6 858.3 813.7 864.4 813.8 870.7 813.9 876.2 814.0 880.0 814.5 891.5 815.0 901.0 815.4 908.2 815.9 912.7 816.4 914.3 817.5 912.2 818.6 906.9 819.8 900.0 820.9 893.0 822.0 887.5 822.6 885.0 823.3 882.2 823.9 879.8 824.6 878.1 825.2 877.4 825.6 878.8 825.9 882.3 826.3 887.1 826.6 892.3 827.0 897.2 827.6 906.8 828.3 918.3 828.9 929.6 829.6 938.0 830.2 941.4 830.8 939.5 831.3 934.7 831.9 928.1 832.4 921.2 833.0 915.1 833.6 909.1 834.1 902.3 834.7 895.9 835.2 891.2 835.8 889.3 836.0 891.2 836.2 896.0 836.4 902.2 836.6 908.6 836.8 913.6 837.3 922.5 837.8 930.6 838.2 938.0 838.7 944.5 839.2 950.0 840.0 957.6 840.8 964.3 841.5 970.1 842.3 975.2 843.1 979.7 843.6 982.1 844.0 984.5 844.5 986.7 844.9 988.4 845.4 989.6 846.4 991.3 847.3 992.7 848.3 993.8 849.2 994.5 850.2 994.8 851.4 993.4 852.7 990.0 853.9 986.1 855.2 982.7 856.4 981.3 856.8 982.1 857.2 984.2 857.7 987.3 858.1 991.1 858.5 995.2 859.0 1003.6 859.6 1016.2 860.1 1030.5 860.7 1043.8 861.2 1053.6 861.7 1059.1 862.1 1063.8 862.6 1068.0 863.0 1071.9 863.5 1075.8 864.4 1084.2 865.4 1092.4 866.3 1100.3 867.3 1107.7 868.2 1114.4 869.0 1120.2 869.8 1126.3 870.6 1131.8 871.4 1135.8 872.2 1137.3 873.0 1136.2 873.8 1133.1 874.5 1128.8 875.3 1123.8 876.1 1118.7 876.8 1114.2 877.5 1109.0 878.1 1103.0 878.8 1095.8 879.5 1087.4 879.7 1083.7 879.9 1078.6 880.1 1073.4 880.3 1069.4 880.5 1067.8 881.3 1069.8 882.2 1074.6 883.0 1080.2 883.9 1085.0 884.7 1087.0 885.8 1083.7 886.9 1075.4 888.1 1064.2 889.2 1052.1 890.3 1041.5 891.2 1033.5 892.2 1025.3 893.1 1017.2 894.1 1009.4 895.0 1002.2 896.0 995.4 897.0 989.1 898.0 983.1 899.0 977.1 900.0 970.8 901.2 963.5 902.4 956.5 903.5 949.2 904.7 940.6 905.9 930.0 906.5 921.2 907.1 909.0 907.7 896.4 908.3 886.6 908.9 882.6 910.1 883.7 911.3 886.3 912.5 889.5 913.7 892.1 914.9 893.2 915.5 890.5 916.1 883.8 916.7 875.6 917.3 868.0 917.9 863.6 918.6 861.6 919.3 860.2 920.1 859.2 920.8 857.9 921.5 856.0 922.2 852.2 922.9 846.2 923.5 839.5 924.2 833.5 924.9 829.7 925.9 827.1 926.9 825.4 927.9 824.1 928.9 822.3 929.9 819.5 930.7 812.5 931.5 800.1 932.3 786.2 933.1 774.9 933.9 770.2 934.4 773.7 934.9 782.4 935.5 793.8 936.0 805.5 936.5 815.0 936.9 821.3 937.3 828.1 937.7 834.2 938.1 838.6 938.5 840.3 940.4 839.3 942.3 836.9 944.1 834.1 946.0 831.7 947.9 830.7 949.3 833.1 950.7 839.0 952.0 845.9 953.4 851.8 954.8 854.2 956.0 851.3 957.2 844.3 958.4 836.0 959.6 829.0 960.8 826.1 961.8 828.1 962.8 833.4 963.8 841.1 964.8 850.1 965.8 859.4 966.4 866.7 967.0 876.3 967.6 886.2 968.2 894.6 968.8 899.3 970.0 902.9 971.2 905.1 972.4 906.8 973.6 908.6 974.8 911.3 975.6 913.7 976.4 916.3 977.2 919.7 978.0 924.2 978.8 930.0 979.1 935.4 979.5 944.1 979.8 953.6 980.2 961.6 980.5 965.4 981.2 967.0 981.8 968.2 982.5 969.0 983.1 969.5 983.8 969.7 984.6 969.6 985.5 969.4 986.3 969.0 987.2 968.5 988.0 968.0 988.9 966.4 989.8 963.5 990.7 960.3 991.6 957.7 992.5 956.6 993.6 959.6 994.7 966.6 995.8 975.0 996.9 982.0 998.0 985.0 999.2 984.1 1000.4 981.9 1001.6 978.8 1002.8 975.4 1004.0 972.0 1005.2 968.0 1006.4 963.0 1007.5 957.9 1008.7 954.1 1009.9 952.6 1011.0 955.2 1012.1 961.3 1013.3 968.6 1014.4 974.7 1015.5 977.3 1016.9 977.3 1018.3 977.1 1019.7 977.0 1021.1 976.7 1022.5 976.5 1023.8 976.1 1025.2 975.6 1026.5 975.0 1027.9 974.5 1029.2 974.3 1030.1 975.3 1030.9 977.7 1031.8 980.6 1032.6 983.0 1033.5 984.0 1035.3 982.6 1037.1 979.2 1038.8 975.1 1040.6 971.7 1042.4 970.3 1043.1 973.1 1043.7 980.0 1044.4 989.0 1045.0 998.0 1045.7 1004.8 1046.2 1009.1 1046.8 1013.5 1047.3 1017.3 1047.9 1020.1 1048.4 1021.3 1049.5 1021.6 1050.6 1021.7 1051.7 1021.8 1052.8 1021.9 1053.9 1022.2 1054.6 1023.6 1055.3 1027.0 1056.1 1031.3 1056.8 1036.0 1057.5 1040.0 1058.4 1044.7 1059.3 1049.5 1060.3 1054.3 1061.2 1058.5 1062.1 1061.9 1063.4 1065.3 1064.7 1067.9 1065.9 1070.2 1067.2 1072.9 1068.5 1076.5 1069.4 1080.6 1070.3 1086.2 1071.3 1092.4 1072.2 1098.6 1073.1 1103.9 1074.4 1110.0 1075.7 1115.6 1076.9 1120.9 1078.2 1126.1 1079.5 1131.3 1080.6 1135.9 1081.7 1140.5 1082.7 1145.0 1083.8 1149.3 1084.9 1153.2 1086.2 1157.3 1087.5 1161.0 1088.7 1164.4 1090.0 1167.9 1091.3 1171.5 1092.4 1174.9 1093.5 1178.5 1094.6 1182.0 1095.7 1185.2 1096.8 1187.9 1097.9 1190.2 1099.0 1192.4 1100.1 1194.4 1101.2 1196.0 1102.3 1197.1 1103.8 1198.1 1105.2 1198.7 1106.7 1199.3 1108.1 1199.9 1109.6 1200.7 1110.7 1201.6 1111.8 1202.8 1112.9 1204.0 1114.0 1204.9 1115.1 1205.3 1116.9 1205.2 1118.7 1205.0 1120.6 1204.7 1122.4 1204.5 1124.2 1204.4 1126.2 1204.8 1128.2 1205.8 1130.2 1207.0 1132.2 1208.0 1134.2 1208.4 1136.0 1208.3 1137.7 1208.2 1139.5 1208.0 1141.2 1207.8 1143.0 1207.5 1144.5 1207.2 1146.1 1206.7 1147.6 1206.3 1149.2 1205.9 1150.7 1205.8 1152.3 1206.0 1154.0 1206.6 1155.6 1207.2 1157.3 1207.8 1158.9 1208.0 1160.0 1207.6 1161.1 1206.6 1162.2 1205.4 1163.3 1204.2 1164.4 1203.5 1166.2 1203.0 1168.0 1202.5 1169.9 1202.2 1171.7 1201.9 1173.5 1201.6 1174.8 1201.3 1176.1 1201.0 1177.3 1200.7 1178.6 1200.5 1179.9 1200.4 1181.2 1200.7 1182.5 1201.4 1183.7 1202.2 1185.0 1203.0 1186.3 1203.5 1187.8 1203.7 1189.2 1203.9 1190.7 1204.0 1192.1 1204.2 1193.6 1204.4 1195.1 1204.8 1196.5 1205.4 1198.0 1206.2 1199.4 1207.1 1200.9 1208.0 1202.2 1209.1 1203.5 1210.5 1204.7 1212.0 1206.0 1213.1 1207.3 1213.5 1209.7 1213.5 1212.1 1213.5 1214.4 1213.5 1216.8 1213.5 1219.2 1213.5 1221.9 1213.5 1224.5 1213.4 1227.2 1213.4 1229.8 1213.3 1232.5 1213.2 1234.3 1213.2"/>
<path class="c" shape-rendering="crispEdges" stroke="#00ff00" d="M133.5 1143.2 135.6 1143.0 137.7 1142.8 139.8 1142.7 141.9 1142.6 144.0 1142.6 147.2 1142.7 150.4 1143.0 153.6 1143.2 156.8 1143.5 160.0 1143.6 168.0 1143.6 176.0 1143.6 184.0 1143.6 192.0 1143.6 200.0 1143.6 206.0 1143.5 212.0 1143.4 218.0 1143.2 224.0 1142.9 230.0 1142.6 233.0 1142.4 236.0 1142.2 239.0 1141.9 242.0 1141.7 245.0 1141.5 248.4 1141.3 251.8 1141.2 255.2 1141.1 258.6 1140.9 262.0 1140.6 265.0 1140.1 268.0 1139.2 271.0 1137.9 274.0 1136.4 277.0 1134.6 278.4 1133.3 279.8 1131.6 281.2 1129.7 282.6 1128.0 284.0 1126.8 284.7 1126.4 285.5 1126.0 286.2 1125.6 287.0 1125.4 287.7 1125.3 288.8 1125.4 289.8 1125.5 290.9 1125.8 291.9 1126.1 293.0 1126.4 294.6 1127.1 296.2 1128.1 297.8 1129.4 299.4 1130.7 301.0 1132.0 302.2 1132.9 303.4 1134.1 304.6 1135.1 305.8 1135.9 307.0 1136.2 308.3 1136.0 309.7 1135.6 311.0 1135.2 312.4 1134.8 313.7 1134.6 315.4 1135.2 317.0 1136.8 318.7 1138.8 320.3 1140.6 322.0 1141.5 324.6 1142.1 327.2 1142.6 329.8 1142.9 332.4 1143.1 335.0 1143.2 337.7 1143.0 340.4 1142.5 343.0 1141.8 345.7 1141.3 348.4 1141.1 349.9 1141.4 351.4 1142.1 353.0 1142.9 354.5 1143.6 356.0 1143.9 360.8 1143.8 365.6 1143.7 370.4 1143.4 375.2 1143.3 380.0 1143.2 384.0 1143.2 388.0 1143.3 392.0 1143.3 396.0 1143.4 400.0 1143.4 402.3 1143.4 404.6 1143.3 406.9 1143.2 409.2 1143.0 411.5 1142.8 413.0 1142.4 414.5 1141.6 416.0 1140.8 417.5 1140.1 419.0 1139.8 420.4 1140.1 421.8 1140.8 423.2 1141.6 424.6 1142.3 426.0 1142.6 428.2 1142.5 430.3 1142.3 432.5 1142.0 434.6 1141.6 436.8 1141.2 438.8 1140.0 440.8 1137.9 442.9 1135.6 444.9 1133.7 446.9 1132.9 448.6 1133.8 450.2 1135.8 451.9 1138.3 453.5 1140.3 455.2 1141.2 456.9 1140.8 458.6 1140.0 460.2 1139.0 461.9 1138.1 463.6 1137.4 465.3 1137.1 467.0 1136.8 468.6 1136.6 470.3 1136.4 472.0 1135.9 473.3 1134.7 474.7 1132.4 476.0 1129.7 477.4 1127.5 478.7 1126.6 480.4 1127.0 482.1 1128.0 483.7 1129.3 485.4 1130.5 487.1 1131.4 488.4 1131.8 489.8 1132.2 491.1 1132.6 492.5 1132.8 493.8 1132.9 495.0 1131.6 496.1 1128.5 497.3 1124.9 498.4 1121.8 499.6 1120.6 501.6 1122.5 503.6 1127.3 505.7 1132.9 507.7 1137.7 509.7 1139.6 511.2 1139.4 512.7 1138.8 514.2 1137.9 515.7 1136.6 517.2 1135.1 518.4 1132.3 519.6 1127.2 520.7 1121.6 521.9 1117.0 523.1 1115.2 525.1 1117.2 527.1 1121.9 529.1 1127.6 531.1 1132.4 533.1 1134.4 534.6 1133.6 536.1 1131.4 537.6 1128.6 539.1 1125.6 540.6 1123.1 542.3 1120.5 544.0 1117.6 545.6 1115.0 547.3 1113.0 549.0 1112.3 550.7 1114.0 552.4 1118.0 554.0 1122.7 555.7 1126.7 557.4 1128.4 558.6 1127.9 559.7 1126.7 560.9 1124.9 562.0 1122.6 563.2 1120.1 564.2 1116.2 565.2 1110.3 566.3 1103.9 567.3 1098.8 568.3 1096.7 569.8 1099.7 571.3 1106.8 572.8 1115.3 574.3 1122.4 575.8 1125.3 577.8 1123.3 579.8 1118.6 581.8 1112.8 583.8 1108.1 585.8 1106.1 587.0 1107.4 588.2 1110.7 589.3 1114.6 590.5 1117.9 591.7 1119.3 592.9 1118.3 594.1 1115.7 595.2 1112.5 596.4 1109.4 597.6 1107.2 598.3 1106.5 598.9 1105.9 599.6 1105.4 600.2 1104.9 600.9 1104.5 601.9 1104.0 602.9 1103.7 604.0 1103.4 605.0 1102.9 606.0 1102.0 606.4 1098.8 606.7 1091.5 607.1 1082.4 607.4 1073.4 607.8 1066.9 608.2 1061.5 608.6 1056.2 609.1 1051.7 609.5 1048.6 609.9 1047.4 611.0 1049.1 612.1 1053.0 613.3 1057.8 614.4 1061.7 615.5 1063.4 616.2 1060.1 616.9 1052.4 617.5 1043.1 618.2 1035.4 618.9 1032.1 620.3 1034.0 621.7 1038.5 623.1 1043.8 624.5 1048.3 625.9 1050.2 626.7 1047.1 627.6 1039.4 628.4 1029.3 629.3 1019.2 630.1 1011.3 631.1 1004.0 632.0 996.5 633.0 989.9 633.9 985.2 634.9 983.4 636.0 985.7 637.1 991.2 638.3 997.9 639.4 1003.4 640.5 1005.7 641.4 1005.1 642.3 1003.5 643.2 1001.6 644.1 999.9 645.0 999.0 645.9 998.7 646.8 998.5 647.7 998.3 648.6 998.1 649.5 998.1 650.6 1000.8 651.7 1007.4 652.9 1015.2 654.0 1021.8 655.1 1024.5 656.4 1024.3 657.6 1023.8 658.9 1023.1 660.1 1022.6 661.4 1022.4 662.1 1025.0 662.8 1031.3 663.4 1039.4 664.1 1047.3 664.8 1053.0 666.2 1060.4 667.6 1066.6 669.0 1071.8 670.4 1076.5 671.8 1080.8 672.9 1084.1 674.0 1087.2 675.2 1090.0 676.3 1092.5 677.4 1094.7 679.1 1097.4 680.7 1099.7 682.4 1101.8 684.0 1103.8 685.7 1105.8 687.4 1107.9 689.0 1109.9 690.7 1111.9 692.3 1113.8 694.0 1115.6 696.1 1118.0 698.2 1120.5 700.3 1122.7 702.4 1124.4 704.5 1125.0 706.1 1124.7 707.7 1123.4 709.4 1121.1 711.0 1117.5 712.6 1112.3 712.9 1106.5 713.2 1094.2 713.6 1079.6 713.9 1067.0 714.2 1060.4 715.4 1054.2 716.7 1051.0 717.9 1049.0 719.2 1046.5 720.4 1041.5 721.0 1035.4 721.7 1025.3 722.3 1013.7 723.0 1002.6 723.6 994.3 725.0 982.6 726.4 973.7 727.9 965.9 729.3 957.6 730.7 947.2 731.8 937.0 732.9 925.4 734.0 912.6 735.1 898.8 736.2 884.4 737.0 875.7 737.8 868.7 738.6 859.7 739.4 845.2 740.2 821.5 740.3 813.0 740.4 797.0 740.4 778.9 740.5 764.1 740.6 758.0 741.5 762.1 742.4 772.6 743.2 786.4 744.1 800.8 745.0 812.8 745.5 819.0 746.0 825.9 746.5 832.1 747.0 836.7 747.5 838.5 748.3 837.7 749.1 835.6 749.9 833.2 750.7 831.2 751.5 830.4 752.3 830.6 753.1 831.3 753.9 832.1 754.7 832.7 755.5 833.0 756.0 831.9 756.5 828.9 757.0 824.5 757.5 819.1 758.0 813.3 758.4 806.8 758.8 797.7 759.2 787.4 759.6 777.2 760.0 768.3 760.8 751.2 761.6 733.3 762.5 717.2 763.3 705.7 764.1 701.2 764.9 704.3 765.7 712.3 766.4 723.5 767.2 736.1 768.0 748.2 768.4 755.4 768.8 764.1 769.2 772.7 769.6 779.6 770.0 783.0 771.0 785.3 772.0 786.4 773.0 787.2 774.0 788.2 775.0 790.0 775.9 795.4 776.8 805.0 777.6 815.8 778.5 824.7 779.4 828.3 780.5 823.1 781.6 810.3 782.8 793.7 783.9 777.4 785.0 765.5 785.8 760.3 786.6 756.4 787.4 752.7 788.2 748.2 789.0 742.0 789.4 736.8 789.7 729.2 790.1 721.3 790.4 715.0 790.8 712.5 791.2 715.4 791.7 722.6 792.1 731.8 792.6 740.7 793.0 747.0 793.6 752.7 794.2 758.0 794.8 762.5 795.4 765.7 796.0 767.4 796.7 768.2 797.4 768.6 798.2 768.9 798.9 769.3 799.6 770.0 800.4 773.7 801.3 781.0 802.1 789.4 803.0 796.3 803.8 799.2 804.4 797.4 805.1 792.5 805.7 785.4 806.4 777.0 807.0 768.2 807.3 763.6 807.6 758.0 807.9 751.8 808.2 745.1 808.5 738.4 808.8 731.0 809.1 722.8 809.4 714.4 809.7 706.7 810.0 700.3 810.4 693.5 810.7 686.9 811.1 681.0 811.4 676.9 811.8 675.4 811.9 677.4 812.1 682.4 812.2 689.3 812.4 696.6 812.5 703.2 812.7 711.1 812.9 718.9 813.1 726.9 813.3 735.7 813.5 745.7 813.6 752.1 813.7 760.0 813.8 768.0 813.9 775.0 814.0 779.8 814.5 794.5 815.0 806.6 815.4 815.8 815.9 821.6 816.4 823.6 817.5 821.2 818.6 815.4 819.8 807.7 820.9 799.9 822.0 793.8 822.6 790.9 823.3 787.9 823.9 785.2 824.6 783.2 825.2 782.5 825.6 784.1 825.9 788.3 826.3 793.9 826.6 800.2 827.0 805.9 827.6 817.2 828.3 830.9 828.9 844.1 829.6 854.1 830.2 858.1 830.8 855.9 831.3 850.3 831.9 842.7 832.4 834.6 833.0 827.5 833.6 820.5 834.1 812.6 834.7 805.2 835.2 799.7 835.8 797.5 836.0 799.4 836.2 804.0 836.4 810.1 836.6 816.3 836.8 821.2 837.3 829.9 837.8 837.9 838.2 845.1 838.7 851.4 839.2 856.8 840.0 864.3 840.8 870.8 841.5 876.5 842.3 881.4 843.1 885.8 843.6 888.2 844.0 890.6 844.5 892.6 844.9 894.3 845.4 895.5 846.4 897.2 847.3 898.6 848.3 899.6 849.2 900.4 850.2 900.6 851.4 899.3 852.7 896.1 853.9 892.4 855.2 889.2 856.4 887.9 856.8 888.8 857.2 891.1 857.7 894.5 858.1 898.7 858.5 903.3 859.0 912.5 859.6 926.4 860.1 942.2 860.7 956.9 861.2 967.7 861.7 973.8 862.1 979.0 862.6 983.5 863.0 987.9 863.5 992.2 864.4 1001.5 865.4 1010.6 866.3 1019.3 867.3 1027.4 868.2 1034.8 869.0 1041.2 869.8 1048.0 870.6 1054.0 871.4 1058.4 872.2 1060.1 873.0 1058.8 873.8 1055.5 874.5 1050.7 875.3 1045.1 876.1 1039.5 876.8 1034.4 877.5 1028.7 878.1 1022.0 878.8 1014.1 879.5 1004.7 879.7 1000.5 879.9 994.9 880.1 989.2 880.3 984.7 880.5 982.9 881.3 984.8 882.2 989.3 883.0 994.6 883.9 999.1 884.7 1001.0 885.8 999.0 886.9 993.5 888.1 985.2 889.2 974.8 890.3 962.9 890.6 957.8 891.0 950.7 891.3 942.9 891.7 935.6 892.0 930.0 893.2 917.2 894.4 907.7 895.6 899.6 896.8 890.9 898.0 879.4 899.0 865.4 900.0 847.5 900.9 828.5 901.9 811.6 902.9 799.6 903.7 793.2 904.5 787.9 905.4 783.3 906.2 779.1 907.0 775.0 907.6 771.7 908.2 768.2 908.7 765.0 909.3 762.7 909.9 761.8 910.9 763.2 911.9 766.6 912.9 770.6 913.9 774.0 914.9 775.4 915.7 772.4 916.5 765.1 917.3 755.6 918.1 746.5 918.9 739.9 919.9 735.0 920.9 731.1 921.9 727.6 922.9 724.0 923.9 719.7 924.3 717.6 924.7 715.4 925.1 713.0 925.5 710.5 925.9 708.0 926.7 703.1 927.5 698.2 928.3 692.9 929.1 686.9 929.9 679.8 930.7 668.3 931.5 652.2 932.3 635.5 933.1 622.5 933.9 617.2 934.7 621.0 935.5 630.7 936.3 643.8 937.1 657.7 937.9 669.8 938.3 675.8 938.7 682.6 939.1 689.0 939.5 693.7 939.9 695.6 941.0 695.3 942.1 694.7 943.3 693.8 944.4 692.8 945.5 692.0 946.8 691.1 948.0 690.0 949.3 689.0 950.5 688.3 951.8 688.0 952.6 692.3 953.4 702.6 954.2 714.9 955.0 725.2 955.8 729.5 956.8 727.7 957.8 723.3 958.8 718.2 959.8 713.8 960.8 712.0 961.8 715.4 962.8 724.2 963.8 736.0 964.8 748.6 965.8 759.6 966.6 768.3 967.4 778.2 968.2 787.5 969.0 794.5 969.8 797.6 971.0 798.2 972.2 798.5 973.4 798.7 974.6 799.0 975.8 799.6 976.6 803.1 977.4 810.9 978.2 821.0 979.0 831.2 979.8 839.5 980.6 846.4 981.4 853.4 982.2 859.8 983.0 864.7 983.8 867.4 984.4 868.4 985.0 869.2 985.6 869.8 986.2 870.3 986.8 870.4 987.4 870.3 988.1 869.9 988.7 869.4 989.4 868.8 990.0 868.0 990.8 865.3 991.6 860.5 992.5 855.0 993.3 850.5 994.1 848.7 995.0 851.0 995.9 856.6 996.9 863.3 997.8 868.9 998.7 871.2 999.8 870.5 1000.8 868.7 1001.9 866.0 1002.9 863.0 1004.0 860.0 1005.3 854.8 1006.7 847.7 1008.0 840.5 1009.4 834.9 1010.7 832.7 1011.6 835.6 1012.4 842.7 1013.3 851.7 1014.1 860.3 1015.0 866.0 1015.9 869.9 1016.9 873.5 1017.8 876.4 1018.8 878.5 1019.7 879.2 1021.1 878.1 1022.5 875.5 1023.8 872.4 1025.2 869.8 1026.6 868.7 1028.4 870.2 1030.2 873.7 1032.0 878.0 1033.8 881.5 1035.6 883.0 1037.0 881.7 1038.4 878.6 1039.7 874.8 1041.1 871.7 1042.5 870.4 1043.1 873.3 1043.8 880.5 1044.4 889.7 1045.1 898.4 1045.7 904.4 1046.6 909.2 1047.5 913.0 1048.4 916.2 1049.3 919.3 1050.2 922.6 1051.1 926.4 1052.0 930.3 1053.0 934.1 1053.9 937.7 1054.8 940.9 1055.9 944.2 1057.0 947.0 1058.1 949.7 1059.2 952.5 1060.3 955.5 1061.4 958.8 1062.5 962.3 1063.6 966.0 1064.7 969.8 1065.8 973.8 1066.9 977.8 1068.0 982.0 1069.0 986.4 1070.1 991.0 1071.2 995.7 1072.3 1000.9 1073.4 1006.4 1074.5 1012.1 1075.6 1017.7 1076.7 1023.1 1077.4 1026.4 1078.2 1029.6 1078.9 1032.7 1079.7 1036.1 1080.4 1040.0 1081.1 1044.9 1081.8 1051.0 1082.6 1057.3 1083.3 1063.0 1084.0 1067.4 1085.1 1071.9 1086.2 1075.5 1087.3 1078.5 1088.4 1081.8 1089.5 1085.7 1090.4 1090.1 1091.3 1095.4 1092.3 1100.9 1093.2 1105.8 1094.1 1109.4 1095.2 1112.4 1096.3 1115.0 1097.3 1117.3 1098.4 1119.1 1099.5 1120.4 1101.2 1121.8 1102.8 1122.8 1104.5 1123.6 1106.1 1124.6 1107.8 1125.8 1109.3 1127.7 1110.7 1130.3 1112.2 1133.0 1113.6 1135.1 1115.1 1135.9 1116.9 1135.8 1118.7 1135.6 1120.6 1135.3 1122.4 1135.1 1124.2 1135.0 1127.9 1135.2 1131.5 1135.6 1135.2 1136.2 1138.8 1136.6 1142.5 1136.8 1144.1 1136.6 1145.8 1136.2 1147.4 1135.6 1149.1 1135.2 1150.7 1135.0 1152.3 1135.2 1154.0 1135.8 1155.6 1136.4 1157.3 1137.0 1158.9 1137.2 1161.5 1137.0 1164.0 1136.5 1166.6 1135.7 1169.1 1134.9 1171.7 1134.1 1173.3 1133.5 1174.8 1132.9 1176.4 1132.2 1177.9 1131.7 1179.5 1131.5 1180.7 1132.0 1181.9 1133.0 1183.0 1134.4 1184.2 1135.4 1185.4 1135.9 1186.5 1135.8 1187.6 1135.4 1188.7 1135.1 1189.8 1134.7 1190.9 1134.6 1192.5 1135.1 1194.2 1136.4 1195.8 1138.0 1197.5 1139.5 1199.1 1140.5 1201.3 1141.3 1203.5 1141.9 1205.6 1142.4 1207.8 1142.9 1210.0 1143.2 1214.5 1143.8 1219.0 1144.3 1223.5 1144.6 1228.0 1144.9 1232.5 1145.0 1234.3 1145.0"/>
<path class="c" shape-rendering="crispEdges" stroke="#0000ff" d="M133.5 1072.9 135.6 1072.7 137.7 1072.5 139.8 1072.4 141.9 1072.3 144.0 1072.3 147.2 1072.4 150.4 1072.7 153.6 1072.9 156.8 1073.2 160.0 1073.3 168.0 1073.3 176.0 1073.3 184.0 1073.3 192.0 1073.3 200.0 1073.3 206.0 1073.2 212.0 1073.1 218.0 1072.9 224.0 1072.6 230.0 1072.3 233.0 1072.1 236.0 1071.9 239.0 1071.7 242.0 1071.4 245.0 1071.2 248.4 1071.0 251.8 1070.9 255.2 1070.7 258.6 1070.5 262.0 1070.2 265.0 1069.7 268.0 1068.7 271.0 1067.4 274.0 1065.7 277.0 1063.8 278.4 1062.5 279.8 1060.7 281.2 1058.7 282.6 1056.9 284.0 1055.7 284.7 1055.2 285.5 1054.8 286.2 1054.5 287.0 1054.2 287.7 1054.1 288.8 1054.2 289.8 1054.4 290.9 1054.6 291.9 1054.9 293.0 1055.2 294.6 1056.0 296.2 1057.1 297.8 1058.4 299.4 1059.8 301.0 1061.1 302.2 1062.1 303.4 1063.3 304.6 1064.4 305.8 1065.2 307.0 1065.6 308.3 1065.4 309.7 1065.0 311.0 1064.4 312.4 1064.0 313.7 1063.8 315.4 1064.5 317.0 1066.2 318.7 1068.3 320.3 1070.1 322.0 1071.2 324.6 1071.7 327.2 1072.2 329.8 1072.6 332.4 1072.8 335.0 1072.9 337.7 1072.7 340.4 1072.2 343.0 1071.5 345.7 1071.0 348.4 1070.8 349.9 1071.1 351.4 1071.8 353.0 1072.6 354.5 1073.3 356.0 1073.6 360.8 1073.5 365.6 1073.4 370.4 1073.1 375.2 1073.0 380.0 1072.9 384.0 1072.9 388.0 1073.0 392.0 1073.0 396.0 1073.1 400.0 1073.1 402.3 1073.1 404.6 1073.0 406.9 1072.9 409.2 1072.7 411.5 1072.5 413.0 1071.9 414.5 1070.8 416.0 1069.5 417.5 1068.4 419.0 1068.0 420.4 1068.4 421.8 1069.5 423.2 1070.8 424.6 1071.9 426.0 1072.3 428.2 1072.2 430.3 1072.0 432.5 1071.7 434.6 1071.3 436.8 1070.8 438.8 1069.6 440.8 1067.4 442.9 1065.0 444.9 1063.0 446.9 1062.2 448.6 1063.1 450.2 1065.2 451.9 1067.8 453.5 1069.9 455.2 1070.8 456.9 1070.5 458.6 1069.6 460.2 1068.6 461.9 1067.6 463.6 1066.9 465.3 1066.5 467.0 1066.3 468.6 1066.1 470.3 1065.8 472.0 1065.4 473.3 1064.1 474.7 1061.7 476.0 1058.9 477.4 1056.7 478.7 1055.7 480.4 1056.1 482.1 1057.2 483.7 1058.5 485.4 1059.8 487.1 1060.7 488.4 1061.1 489.8 1061.5 491.1 1061.9 492.5 1062.1 493.8 1062.2 495.0 1060.9 496.1 1057.7 497.3 1054.0 498.4 1050.8 499.6 1049.5 501.6 1051.5 503.6 1056.4 505.7 1062.3 507.7 1067.2 509.7 1069.2 511.2 1069.0 512.7 1068.4 514.2 1067.4 515.7 1066.1 517.2 1064.6 518.4 1061.6 519.6 1056.4 520.7 1050.6 521.9 1045.9 523.1 1043.9 525.1 1046.0 527.1 1050.9 529.1 1056.8 531.1 1061.7 533.1 1063.8 534.6 1062.9 536.1 1060.7 537.6 1057.8 539.1 1054.7 540.6 1052.1 542.3 1049.4 544.0 1046.4 545.6 1043.7 547.3 1041.7 549.0 1040.9 550.7 1042.7 552.4 1046.8 554.0 1051.7 555.7 1055.9 557.4 1057.6 558.6 1057.1 559.7 1055.8 560.9 1053.9 562.0 1051.6 563.2 1049.0 564.2 1045.0 565.2 1038.8 566.3 1032.2 567.3 1027.0 568.3 1024.8 569.8 1027.9 571.3 1035.3 572.8 1044.0 574.3 1051.3 575.8 1054.4 577.8 1052.4 579.8 1047.4 581.8 1041.5 583.8 1036.6 585.8 1034.5 587.0 1035.9 588.2 1039.3 589.3 1043.4 590.5 1046.8 591.7 1048.2 592.9 1046.9 594.1 1043.8 595.2 1040.1 596.4 1037.0 597.6 1035.7 598.3 1035.9 598.9 1036.4 599.6 1037.0 600.2 1037.5 600.9 1037.7 602.0 1037.6 603.1 1037.4 604.2 1036.9 605.3 1036.1 606.4 1034.9 606.7 1031.5 607.0 1023.7 607.2 1013.9 607.5 1004.3 607.8 997.4 608.2 990.2 608.6 983.4 609.1 977.7 609.5 973.8 609.9 972.3 610.9 974.5 611.9 979.9 612.8 986.3 613.8 991.7 614.8 993.9 615.5 989.4 616.2 978.7 616.8 966.0 617.5 955.3 618.2 950.8 619.6 954.6 621.0 963.5 622.4 974.2 623.8 983.1 625.2 986.9 626.2 983.4 627.2 974.7 628.1 963.1 629.1 951.3 630.1 941.7 630.9 934.7 631.7 927.2 632.6 920.4 633.4 915.5 634.2 913.6 635.3 916.7 636.4 924.0 637.6 932.7 638.7 940.0 639.8 943.1 640.8 941.9 641.9 938.9 642.9 935.2 644.0 931.8 645.0 930.0 646.0 929.3 647.1 928.7 648.1 928.2 649.2 927.9 650.2 927.8 651.2 930.6 652.2 937.3 653.1 945.4 654.1 952.1 655.1 954.9 656.4 953.9 657.6 951.5 658.9 948.6 660.1 946.2 661.4 945.2 662.1 948.8 662.8 957.4 663.4 968.1 664.1 977.8 664.8 983.4 666.2 987.5 667.6 990.1 669.0 992.0 670.4 994.1 671.8 997.4 672.6 1000.9 673.5 1005.6 674.3 1010.7 675.2 1015.2 676.0 1018.2 677.9 1021.9 679.9 1024.6 681.8 1026.8 683.8 1028.7 685.7 1030.7 687.4 1032.5 689.0 1034.0 690.7 1035.6 692.3 1037.2 694.0 1039.1 696.1 1042.4 698.2 1046.6 700.3 1050.7 702.4 1053.8 704.5 1055.1 705.7 1054.3 707.0 1052.2 708.2 1048.8 709.5 1044.3 710.7 1039.1 711.4 1033.7 712.1 1025.1 712.8 1015.0 713.5 1005.1 714.2 997.4 714.8 992.4 715.3 987.3 715.9 982.9 716.4 979.6 717.0 977.9 717.7 977.3 718.4 977.0 719.1 976.8 719.8 976.4 720.5 975.8 721.1 973.1 721.6 967.0 722.2 958.9 722.7 950.0 723.3 941.7 723.8 933.2 724.4 923.4 724.9 913.7 725.5 905.4 726.0 900.0 726.8 895.8 727.6 893.1 728.3 890.8 729.1 888.2 729.9 884.4 731.2 872.7 732.4 854.7 733.7 833.2 734.9 810.7 736.2 790.0 737.0 780.7 737.9 774.7 738.7 767.1 739.6 752.9 740.4 727.2 740.4 719.6 740.5 703.8 740.5 685.5 740.6 670.3 740.6 664.0 741.5 668.8 742.4 680.9 743.2 697.0 744.1 713.7 745.0 727.6 745.5 734.9 746.0 742.8 746.5 750.1 747.0 755.4 747.5 757.5 748.3 756.7 749.1 754.6 749.9 752.2 750.7 750.2 751.5 749.4 752.3 749.6 753.1 750.3 753.9 751.1 754.7 751.7 755.5 752.0 756.0 750.6 756.5 746.8 757.0 741.3 757.5 734.5 758.0 727.1 758.4 718.9 758.8 707.5 759.2 694.5 759.6 681.6 760.0 670.4 760.8 648.9 761.6 626.3 762.5 606.0 763.3 591.4 764.1 585.8 764.9 589.8 765.7 600.1 766.4 614.5 767.2 630.7 768.0 646.3 768.4 655.5 768.8 666.7 769.2 677.8 769.6 686.6 770.0 691.1 771.0 693.9 772.0 695.5 773.0 696.5 774.0 697.7 775.0 700.0 775.9 705.9 776.8 716.1 777.6 727.3 778.5 736.4 779.4 740.2 780.5 734.2 781.6 719.3 782.8 700.2 783.9 681.3 785.0 667.5 785.8 661.6 786.6 657.0 787.4 652.7 788.2 647.5 789.0 640.4 789.4 634.4 789.7 625.6 790.1 616.4 790.4 609.1 790.8 606.2 791.2 609.5 791.7 617.8 792.1 628.3 792.6 638.4 793.0 645.7 793.6 652.2 794.2 658.3 794.8 663.4 795.4 667.1 796.0 669.1 796.7 669.9 797.4 670.4 798.2 670.8 798.9 671.2 799.6 672.0 800.4 675.4 801.3 681.9 802.1 689.3 803.0 695.3 803.8 697.8 804.4 696.2 805.1 692.0 805.7 685.9 806.4 678.7 807.0 671.2 807.3 667.2 807.6 662.4 807.9 657.0 808.2 651.3 808.5 645.5 808.8 639.1 809.1 632.0 809.4 624.8 809.7 618.2 810.0 612.7 810.4 606.9 810.7 601.2 811.1 596.2 811.4 592.6 811.8 591.3 811.9 593.0 812.1 597.2 812.2 603.0 812.4 609.1 812.5 614.6 812.7 621.3 812.9 627.8 813.1 634.6 813.3 641.9 813.5 650.3 813.6 655.8 813.7 662.3 813.8 669.1 813.9 675.0 814.0 679.0 814.5 691.3 815.0 701.5 815.4 709.2 815.9 714.1 816.4 715.8 817.5 713.7 818.6 708.3 819.8 701.3 820.9 694.3 822.0 688.8 822.6 686.1 823.3 683.4 823.9 680.9 824.6 679.2 825.2 678.5 825.6 679.7 825.9 682.9 826.3 687.2 826.6 692.0 827.0 696.4 827.6 705.0 828.3 715.5 828.9 725.6 829.6 733.3 830.2 736.3 830.8 734.7 831.3 730.4 831.9 724.8 832.4 718.8 833.0 713.5 833.6 708.3 834.1 702.4 834.7 696.8 835.2 692.7 835.8 691.1 836.0 693.3 836.2 698.7 836.4 705.8 836.6 713.0 836.8 718.7 837.3 728.8 837.8 738.1 838.2 746.5 838.7 753.8 839.2 760.1 840.0 768.7 840.8 776.3 841.5 782.9 842.3 788.7 843.1 793.8 843.6 796.6 844.0 799.3 844.5 801.7 844.9 803.7 845.4 805.1 846.4 807.0 847.3 808.6 848.3 809.9 849.2 810.7 850.2 811.0 851.4 808.5 852.7 802.6 853.9 795.6 855.2 789.7 856.4 787.2 856.8 788.1 857.2 790.6 857.7 794.4 858.1 798.9 858.5 803.8 859.0 813.7 859.6 828.7 860.1 845.7 860.7 861.6 861.2 873.2 861.7 879.8 862.1 885.4 862.6 890.3 863.0 895.0 863.5 899.7 864.4 909.7 865.4 919.5 866.3 928.9 867.3 937.6 868.2 945.6 869.0 952.5 869.8 959.8 870.6 966.4 871.4 971.1 872.2 972.9 873.0 971.5 873.8 967.6 874.5 962.2 875.3 955.9 876.1 949.5 876.8 943.8 877.5 937.3 878.1 929.7 878.8 920.8 879.5 910.2 879.7 905.5 879.9 899.1 880.1 892.6 880.3 887.5 880.5 885.5 881.3 887.6 882.2 892.5 883.0 898.3 883.9 903.2 884.7 905.3 885.5 902.8 886.3 896.2 887.1 887.3 887.9 877.6 888.7 868.7 890.0 855.8 891.2 842.1 892.5 828.1 893.7 813.8 895.0 799.6 896.4 783.7 897.8 767.4 899.2 751.1 900.6 735.1 902.0 719.7 903.2 707.7 904.4 696.5 905.5 685.2 906.7 673.3 907.9 659.9 908.3 653.8 908.7 646.3 909.1 639.0 909.5 633.5 909.9 631.3 910.9 634.3 911.9 641.5 912.9 650.0 913.9 657.2 914.9 660.2 915.5 657.7 916.1 651.6 916.7 643.6 917.3 635.6 917.9 629.4 918.3 626.4 918.7 623.6 919.1 621.0 919.5 618.7 919.9 616.7 920.4 614.7 920.9 613.3 921.5 611.9 922.0 610.2 922.5 608.0 923.0 604.1 923.5 598.4 923.9 592.0 924.4 586.3 924.9 582.7 925.9 579.1 926.9 576.9 927.9 575.1 928.9 572.9 929.9 569.6 930.7 563.5 931.5 553.7 932.3 543.2 933.1 534.7 933.9 531.3 934.5 533.8 935.1 540.2 935.7 549.2 936.3 559.5 936.9 569.6 937.2 575.3 937.5 582.6 937.7 589.7 938.0 595.1 938.3 597.3 939.4 595.7 940.5 591.8 941.7 587.2 942.8 583.3 943.9 581.7 945.1 581.8 946.3 582.0 947.5 582.5 948.7 583.0 949.9 583.7 951.1 587.3 952.3 594.7 953.4 603.2 954.6 610.3 955.8 613.3 956.8 611.4 957.8 606.8 958.8 601.2 959.8 596.6 960.8 594.7 961.8 597.4 962.8 604.1 963.8 613.0 964.8 622.0 965.8 629.4 966.2 631.5 966.6 633.5 967.0 635.3 967.4 637.4 967.8 639.9 968.6 647.9 969.4 659.1 970.2 670.8 971.0 680.6 971.8 685.8 973.0 688.1 974.2 689.3 975.4 690.3 976.6 691.5 977.8 693.8 978.6 698.1 979.4 706.0 980.2 716.5 981.0 728.1 981.8 739.7 982.2 746.7 982.6 755.5 983.0 764.1 983.4 770.7 983.8 773.6 984.8 774.5 985.9 775.2 986.9 775.7 988.0 775.9 989.0 776.0 990.0 773.2 991.0 766.7 992.1 758.8 993.1 752.3 994.1 749.5 995.1 753.1 996.1 761.6 997.1 771.7 998.1 780.2 999.1 783.8 1000.1 782.1 1001.1 777.8 1002.0 772.0 1003.0 765.7 1004.0 760.0 1005.3 752.2 1006.5 743.1 1007.8 734.4 1009.0 727.9 1010.3 725.3 1011.0 729.9 1011.8 740.8 1012.5 754.1 1013.3 765.5 1014.0 771.0 1015.2 772.7 1016.4 774.0 1017.7 774.9 1018.9 775.4 1020.1 775.6 1021.6 774.6 1023.1 772.2 1024.5 769.2 1026.0 766.8 1027.5 765.8 1028.7 767.0 1029.8 769.8 1031.0 773.2 1032.1 776.0 1033.3 777.2 1034.7 776.4 1036.1 774.5 1037.6 772.3 1039.0 770.4 1040.4 769.6 1041.3 772.2 1042.1 778.9 1043.0 787.6 1043.8 796.6 1044.7 803.9 1045.4 809.1 1046.2 814.3 1046.9 819.2 1047.7 823.2 1048.4 825.8 1049.7 828.3 1051.0 829.9 1052.2 831.1 1053.5 832.7 1054.8 835.0 1055.9 838.9 1057.0 844.8 1058.1 851.6 1059.2 858.4 1060.3 864.2 1061.8 870.1 1063.2 875.3 1064.7 880.3 1066.1 885.5 1067.6 891.6 1068.7 897.3 1069.8 903.9 1070.9 910.7 1072.0 917.2 1073.1 922.6 1074.2 926.7 1075.3 930.0 1076.3 933.2 1077.4 936.6 1078.5 940.9 1079.6 946.8 1080.7 954.3 1081.8 962.4 1082.9 970.3 1084.0 977.4 1085.5 985.6 1086.9 993.4 1088.4 1000.8 1089.8 1007.6 1091.3 1014.0 1092.8 1019.9 1094.2 1025.6 1095.7 1030.8 1097.1 1035.7 1098.6 1040.0 1099.7 1043.0 1100.8 1046.0 1101.9 1048.7 1103.0 1051.0 1104.1 1052.8 1105.2 1054.2 1106.3 1055.3 1107.4 1056.4 1108.5 1057.3 1109.6 1058.3 1111.1 1059.8 1112.5 1061.5 1114.0 1063.1 1115.4 1064.3 1116.9 1064.7 1118.5 1064.5 1120.2 1064.0 1121.8 1063.5 1123.5 1063.0 1125.1 1062.8 1126.6 1063.3 1128.0 1064.4 1129.5 1065.8 1130.9 1066.9 1132.4 1067.4 1134.7 1067.4 1137.0 1067.3 1139.4 1067.3 1141.7 1067.1 1144.0 1067.0 1145.3 1066.5 1146.7 1065.5 1148.0 1064.4 1149.4 1063.4 1150.7 1063.0 1152.0 1063.5 1153.3 1064.5 1154.5 1065.9 1155.8 1066.9 1157.1 1067.4 1159.3 1067.4 1161.5 1067.3 1163.6 1067.3 1165.8 1067.1 1168.0 1067.0 1169.1 1066.7 1170.2 1066.0 1171.3 1065.2 1172.4 1064.3 1173.5 1063.7 1174.8 1063.1 1176.1 1062.6 1177.3 1062.1 1178.6 1061.7 1179.9 1061.6 1181.0 1062.0 1182.1 1063.0 1183.2 1064.2 1184.3 1065.2 1185.4 1065.6 1186.5 1065.3 1187.6 1064.7 1188.7 1063.9 1189.8 1063.3 1190.9 1063.0 1192.5 1063.3 1194.2 1064.1 1195.8 1065.2 1197.5 1066.3 1199.1 1067.4 1200.6 1068.4 1202.0 1069.5 1203.5 1070.5 1204.9 1071.4 1206.4 1072.0 1209.0 1072.5 1211.5 1073.0 1214.1 1073.3 1216.6 1073.6 1219.2 1073.8 1221.9 1074.0 1224.5 1074.3 1227.2 1074.4 1229.8 1074.6 1232.5 1074.7 1234.3 1074.7"/>
<path class="c" shape-rendering="crispEdges" stroke="#00ffff" d="M133.5 1002.6 135.6 1002.4 137.7 1002.2 139.8 1002.1 141.9 1002.0 144.0 1002.0 147.2 1002.1 150.4 1002.4 153.6 1002.6 156.8 1002.9 160.0 1003.0 168.0 1003.0 176.0 1003.0 184.0 1003.0 192.0 1003.0 200.0 1003.0 206.0 1002.9 212.0 1002.8 218.0 1002.6 224.0 1002.3 230.0 1002.0 233.0 1001.8 236.0 1001.6 239.0 1001.4 242.0 1001.1 245.0 1000.9 248.4 1000.7 251.8 1000.5 255.2 1000.3 258.6 1000.1 262.0 999.8 265.0 999.2 268.0 998.2 271.0 996.8 274.0 995.1 277.0 993.1 278.4 991.7 279.8 989.8 281.2 987.7 282.6 985.8 284.0 984.5 284.7 984.1 285.5 983.7 286.2 983.3 287.0 983.0 287.7 982.9 288.8 983.0 289.8 983.2 290.9 983.4 291.9 983.8 293.0 984.1 294.6 984.9 296.2 986.0 297.8 987.4 299.4 988.9 301.0 990.2 302.2 991.3 303.4 992.5 304.6 993.7 305.8 994.6 307.0 994.9 308.3 994.7 309.7 994.3 311.0 993.7 312.4 993.3 313.7 993.1 315.4 993.8 317.0 995.6 318.7 997.7 320.3 999.7 322.0 1000.8 324.6 1001.4 327.2 1001.9 329.8 1002.3 332.4 1002.5 335.0 1002.6 337.7 1002.4 340.4 1001.9 343.0 1001.2 345.7 1000.7 348.4 1000.5 349.9 1000.8 351.4 1001.5 353.0 1002.3 354.5 1003.0 356.0 1003.3 360.8 1003.2 365.6 1003.1 370.4 1002.8 375.2 1002.7 380.0 1002.6 384.0 1002.6 388.0 1002.7 392.0 1002.7 396.0 1002.8 400.0 1002.8 402.3 1002.8 404.6 1002.7 406.9 1002.6 409.2 1002.4 411.5 1002.2 413.0 1001.6 414.5 1000.5 416.0 999.2 417.5 998.1 419.0 997.7 420.4 998.1 421.8 999.2 423.2 1000.5 424.6 1001.6 426.0 1002.0 428.2 1001.9 430.3 1001.7 432.5 1001.4 434.6 1000.9 436.8 1000.4 438.8 999.1 440.8 996.9 442.9 994.3 444.9 992.3 446.9 991.5 448.6 992.4 450.2 994.6 451.9 997.2 453.5 999.5 455.2 1000.4 456.9 1000.0 458.6 999.2 460.2 998.1 461.9 997.0 463.6 996.3 465.3 995.9 467.0 995.7 468.6 995.5 470.3 995.2 472.0 994.8 473.3 993.4 474.7 990.9 476.0 988.0 477.4 985.6 478.7 984.7 480.4 985.1 482.1 986.2 483.7 987.6 485.4 988.9 487.1 989.8 488.4 990.3 489.8 990.7 491.1 991.1 492.5 991.4 493.8 991.5 495.0 990.1 496.1 986.8 497.3 982.8 498.4 979.6 499.6 978.2 501.6 980.3 503.6 985.4 505.7 991.5 507.7 996.6 509.7 998.7 511.2 998.5 512.7 997.8 514.2 996.8 515.7 995.5 517.2 993.9 518.4 990.8 519.6 985.3 520.7 979.3 521.9 974.4 523.1 972.3 525.1 974.5 527.1 979.7 529.1 985.8 531.1 990.9 533.1 993.1 534.6 992.2 536.1 989.9 537.6 986.8 539.1 983.6 540.6 980.9 542.3 978.1 544.0 975.0 545.6 972.1 547.3 970.1 549.0 969.2 550.7 971.0 552.4 975.4 554.0 980.5 555.7 984.8 557.4 986.6 558.6 986.1 559.7 984.8 560.9 982.8 562.0 980.4 563.2 977.7 564.2 973.5 565.2 967.1 566.3 960.2 567.3 954.7 568.3 952.5 569.8 955.7 571.3 963.3 572.8 972.5 574.3 980.1 575.8 983.3 577.8 981.2 579.8 976.0 581.8 969.9 583.8 964.7 585.8 962.6 587.0 964.0 588.2 967.6 589.3 971.8 590.5 975.3 591.7 976.8 592.9 975.5 594.1 972.2 595.2 968.4 596.4 965.2 597.6 963.8 598.3 964.1 599.0 964.8 599.6 965.6 600.3 966.3 601.0 966.6 601.8 966.5 602.6 966.1 603.3 965.3 604.1 964.3 604.9 962.8 605.2 960.8 605.5 956.7 605.8 951.3 606.1 945.8 606.4 941.0 606.7 936.9 607.0 932.7 607.3 928.8 607.6 925.1 607.9 922.0 608.3 918.2 608.7 914.5 609.1 911.2 609.5 908.7 609.9 907.2 610.7 906.0 611.5 905.2 612.2 904.7 613.0 904.1 613.8 903.0 614.8 899.1 615.7 892.3 616.7 884.7 617.6 878.5 618.6 876.0 619.8 879.6 621.0 888.2 622.3 898.4 623.5 907.0 624.7 910.6 625.7 907.7 626.7 900.4 627.6 890.7 628.6 880.5 629.6 872.0 630.7 863.3 631.8 853.9 632.8 845.3 633.9 839.0 635.0 836.5 636.2 840.4 637.4 849.7 638.6 860.8 639.8 870.1 641.0 874.0 641.8 871.9 642.6 866.8 643.4 860.7 644.2 855.5 645.0 853.0 646.1 852.4 647.2 851.9 648.2 851.6 649.3 851.4 650.4 851.3 651.2 854.5 652.0 862.1 652.8 871.1 653.6 878.7 654.4 881.9 655.7 881.2 657.0 879.5 658.2 877.5 659.5 875.8 660.8 875.1 661.3 877.1 661.8 882.1 662.3 888.4 662.8 894.4 663.3 898.5 664.5 904.0 665.7 908.3 666.8 911.8 668.0 915.0 669.2 918.3 670.4 921.7 671.6 924.9 672.7 928.0 673.9 931.0 675.1 934.0 676.1 936.5 677.1 939.0 678.1 941.4 679.1 943.7 680.1 946.0 681.1 948.2 682.1 950.3 683.0 952.4 684.0 954.3 685.0 956.0 686.2 957.8 687.4 959.5 688.6 961.0 689.8 962.5 691.0 964.0 691.8 965.0 692.6 965.9 693.3 966.9 694.1 967.9 694.9 969.0 695.9 970.6 696.9 972.5 697.9 974.4 698.9 976.3 699.9 978.0 700.7 979.5 701.5 981.1 702.3 982.5 703.1 983.6 703.9 984.0 705.1 983.6 706.3 982.4 707.4 980.6 708.6 978.1 709.8 975.0 710.2 972.9 710.7 969.4 711.1 965.3 711.6 961.3 712.0 958.0 712.7 954.0 713.5 950.8 714.2 947.8 715.0 944.4 715.7 940.0 716.6 931.6 717.6 920.3 718.5 907.7 719.5 895.2 720.4 884.4 721.5 874.3 722.6 865.5 723.7 857.0 724.8 847.9 725.9 837.2 727.0 823.5 728.1 807.2 729.2 789.8 730.3 773.1 731.4 758.6 732.4 748.1 733.3 738.6 734.3 729.6 735.2 720.7 736.2 711.4 736.8 706.2 737.4 701.9 738.1 697.2 738.7 690.3 739.3 680.0 739.6 664.9 739.8 636.4 740.1 604.2 740.3 577.9 740.6 567.0 741.5 572.3 742.4 585.8 743.2 603.7 744.1 622.3 745.0 637.8 745.5 645.9 746.0 654.7 746.5 662.8 747.0 668.7 747.5 671.0 748.3 670.3 749.1 668.6 749.9 666.5 750.7 664.8 751.5 664.1 752.3 664.5 753.1 665.5 753.9 666.6 754.7 667.6 755.5 668.0 756.0 666.6 756.5 662.8 757.0 657.1 757.5 650.2 758.0 642.7 758.4 634.4 758.8 622.8 759.2 609.6 759.6 596.5 760.0 585.2 760.8 563.3 761.6 540.4 762.5 519.8 763.3 505.0 764.1 499.3 764.9 503.1 765.7 513.2 766.4 527.1 767.2 542.8 768.0 557.9 768.4 566.9 768.8 577.7 769.2 588.5 769.6 597.0 770.0 601.3 771.0 604.1 772.0 605.6 773.0 606.6 774.0 607.8 775.0 610.0 775.9 616.0 776.8 626.4 777.6 638.0 778.5 647.3 779.4 651.2 780.5 643.9 781.6 625.8 782.8 602.5 783.9 579.7 785.0 562.8 785.8 555.6 786.6 550.0 787.4 544.8 788.2 538.5 789.0 529.8 789.4 522.5 789.7 511.9 790.1 500.7 790.4 491.9 790.8 488.3 791.2 493.2 791.7 505.4 792.1 521.0 792.6 536.1 793.0 546.8 793.6 556.5 794.2 565.5 794.8 573.0 795.4 578.6 796.0 581.5 796.7 582.7 797.4 583.5 798.2 584.0 798.9 584.7 799.6 585.8 800.4 589.7 801.3 596.4 802.1 604.0 803.0 610.1 803.8 612.6 804.4 610.7 805.1 605.7 805.7 598.5 806.4 589.9 807.0 580.9 807.3 576.2 807.6 570.5 807.9 564.1 808.2 557.3 808.5 550.4 808.8 542.9 809.1 534.4 809.4 525.9 809.7 518.0 810.0 511.5 810.4 504.6 810.7 497.7 811.1 491.8 811.4 487.6 811.8 486.0 811.9 487.9 812.1 492.6 812.2 499.0 812.4 505.9 812.5 512.1 812.7 519.6 812.9 526.8 813.1 534.4 813.3 542.6 813.5 552.0 813.6 558.1 813.7 565.4 813.8 573.0 813.9 579.5 814.0 584.0 814.5 597.8 815.0 609.2 815.4 617.8 815.9 623.3 816.4 625.2 817.5 623.6 818.6 619.4 819.8 614.1 820.9 608.6 822.0 604.4 822.6 602.4 823.3 600.3 823.9 598.4 824.6 597.0 825.2 596.5 825.6 597.8 825.9 601.1 826.3 605.7 826.6 610.7 827.0 615.4 827.6 624.5 828.3 635.5 828.9 646.2 829.6 654.3 830.2 657.5 830.8 655.1 831.3 648.8 831.9 640.4 832.4 631.5 833.0 623.7 833.6 616.0 834.1 607.2 834.7 599.0 835.2 592.9 835.8 590.5 836.0 592.8 836.2 598.5 836.4 606.0 836.6 613.5 836.8 619.5 837.3 630.1 837.8 639.9 838.2 648.7 838.7 656.5 839.2 663.1 840.0 672.1 840.8 680.1 841.5 687.1 842.3 693.2 843.1 698.5 843.6 701.5 844.0 704.3 844.5 706.9 844.9 708.9 845.4 710.4 846.4 712.4 847.3 714.1 848.3 715.4 849.2 716.3 850.2 716.6 851.4 715.5 852.7 713.0 853.9 709.9 855.2 707.4 856.4 706.3 856.8 707.2 857.2 709.8 857.7 713.5 858.1 718.1 858.5 723.0 859.0 733.0 859.6 748.2 860.1 765.3 860.7 781.3 861.2 793.0 861.7 799.7 862.1 805.3 862.6 810.3 863.0 815.0 863.5 819.7 864.4 829.8 865.4 839.7 866.3 849.1 867.3 858.0 868.2 866.0 869.0 873.0 869.8 880.3 870.6 886.9 871.4 891.7 872.2 893.5 873.0 892.3 873.8 889.0 874.5 884.3 875.3 878.8 876.1 873.3 876.8 868.3 877.5 862.7 878.1 856.1 878.8 848.4 879.5 839.3 879.7 835.2 879.9 829.6 880.1 824.0 880.3 819.7 880.5 817.9 881.3 818.5 882.2 820.0 883.0 821.9 883.9 823.4 884.7 824.0 885.5 821.8 886.3 816.0 887.1 807.9 887.9 798.8 888.7 790.0 889.6 779.0 890.6 766.3 891.5 752.7 892.5 739.3 893.4 727.2 894.2 718.3 895.0 709.9 895.7 701.7 896.5 693.5 897.3 685.0 898.2 674.4 899.2 663.8 900.1 653.0 901.1 641.6 902.0 629.4 902.8 618.0 903.6 605.3 904.3 592.4 905.1 580.1 905.9 569.6 906.5 562.8 907.1 556.5 907.7 550.7 908.3 545.1 908.9 539.6 909.1 537.5 909.3 535.2 909.5 533.0 909.7 531.4 909.9 530.8 910.9 532.4 911.9 536.3 912.9 540.9 913.9 544.8 914.9 546.4 915.9 544.6 916.9 539.9 917.9 533.4 918.9 526.3 919.9 519.7 920.5 516.3 921.1 513.0 921.7 509.4 922.3 505.1 922.9 499.7 923.3 493.3 923.7 484.0 924.1 474.1 924.5 465.9 924.9 462.0 925.5 460.8 926.1 460.1 926.8 459.7 927.4 459.1 928.0 458.0 928.6 455.3 929.2 450.4 929.7 444.0 930.3 436.9 930.9 429.9 931.5 420.9 932.1 409.5 932.7 398.2 933.3 389.6 933.9 386.2 934.5 389.5 935.1 397.9 935.7 409.0 936.3 420.5 936.9 429.9 937.5 438.0 938.1 446.5 938.7 454.3 939.3 460.4 939.9 463.8 940.7 465.5 941.5 466.5 942.3 467.2 943.1 468.2 943.9 470.0 944.3 472.8 944.7 477.8 945.1 483.3 945.5 487.8 945.9 489.7 946.9 488.8 947.9 486.6 948.8 484.1 949.8 481.9 950.8 481.0 952.0 485.1 953.2 494.9 954.4 506.6 955.6 516.4 956.8 520.5 957.6 517.3 958.4 509.7 959.2 500.7 960.0 493.1 960.8 489.9 961.8 492.6 962.8 499.6 963.8 509.2 964.8 519.8 965.8 529.6 966.6 537.2 967.4 545.4 968.2 553.8 969.0 562.0 969.8 569.6 970.8 578.2 971.8 586.2 972.8 594.0 973.8 601.7 974.8 609.5 975.8 617.4 976.8 625.1 977.8 633.0 978.8 641.0 979.8 649.4 980.4 655.3 981.0 662.0 981.6 668.5 982.2 674.0 982.8 677.3 983.4 679.2 984.0 680.8 984.6 682.1 985.2 683.0 985.8 683.3 986.6 683.2 987.5 683.1 988.3 682.8 989.2 682.5 990.0 682.0 990.8 679.8 991.5 675.2 992.3 669.8 993.0 665.4 993.8 663.5 994.8 665.6 995.8 670.8 996.7 676.8 997.7 682.0 998.7 684.1 999.8 683.3 1000.8 681.1 1001.9 678.2 1002.9 675.0 1004.0 672.0 1005.3 667.8 1006.7 662.7 1008.0 657.8 1009.4 654.1 1010.7 652.6 1011.7 655.6 1012.7 662.7 1013.7 671.2 1014.7 678.3 1015.7 681.3 1017.7 681.0 1019.7 680.2 1021.7 679.4 1023.7 678.6 1025.7 678.3 1026.9 679.2 1028.1 681.4 1029.3 684.0 1030.5 686.2 1031.7 687.1 1033.3 685.6 1034.9 682.0 1036.4 677.6 1038.0 674.0 1039.6 672.5 1040.3 674.5 1041.1 679.7 1041.8 686.6 1042.6 693.9 1043.3 700.1 1043.9 704.7 1044.6 709.3 1045.2 713.9 1045.9 718.1 1046.5 722.0 1047.2 726.1 1048.0 730.1 1048.7 733.7 1049.5 737.1 1050.2 740.0 1051.5 744.2 1052.8 747.6 1054.0 750.8 1055.3 754.2 1056.6 758.3 1057.7 762.9 1058.8 768.4 1059.9 774.3 1061.0 780.2 1062.1 785.7 1062.8 789.2 1063.6 792.9 1064.3 796.3 1065.1 799.5 1065.8 802.1 1067.1 805.4 1068.3 807.9 1069.6 810.2 1070.8 812.9 1072.1 816.7 1073.0 821.2 1073.9 827.6 1074.9 835.0 1075.8 842.6 1076.7 849.6 1077.8 857.2 1078.9 864.8 1080.0 872.2 1081.1 879.4 1082.2 886.1 1083.3 892.4 1084.4 898.4 1085.5 904.2 1086.6 909.8 1087.7 915.3 1088.8 920.6 1089.9 925.6 1091.0 930.6 1092.1 935.6 1093.2 940.9 1094.1 945.8 1095.0 951.2 1095.9 956.5 1096.8 961.2 1097.7 964.7 1099.0 968.1 1100.3 971.0 1101.5 973.3 1102.8 975.4 1104.1 977.4 1105.6 979.5 1107.0 981.4 1108.5 983.1 1109.9 984.8 1111.4 986.6 1112.5 988.2 1113.6 990.0 1114.7 991.8 1115.8 993.1 1116.9 993.9 1119.1 994.5 1121.3 995.0 1123.5 995.3 1125.7 995.6 1127.9 995.7 1132.3 995.9 1136.7 996.0 1141.0 996.0 1145.4 996.1 1149.8 996.3 1151.6 996.6 1153.4 997.3 1155.3 998.1 1157.1 998.7 1158.9 999.0 1160.4 998.8 1161.8 998.3 1163.3 997.5 1164.7 996.6 1166.2 995.7 1167.3 994.8 1168.4 993.7 1169.5 992.5 1170.6 991.6 1171.7 991.1 1173.3 990.9 1175.0 990.7 1176.6 990.5 1178.3 990.4 1179.9 990.4 1181.9 990.6 1183.9 991.0 1186.0 991.6 1188.0 992.3 1190.0 993.0 1191.8 993.7 1193.6 994.6 1195.5 995.6 1197.3 996.5 1199.1 997.5 1200.9 998.5 1202.7 999.6 1204.6 1000.6 1206.4 1001.5 1208.2 1002.1 1210.4 1002.6 1212.6 1003.0 1214.8 1003.4 1217.0 1003.7 1219.2 1003.9 1221.9 1004.2 1224.5 1004.4 1227.2 1004.6 1229.8 1004.7 1232.5 1004.8 1234.3 1004.8"/>
<path class="c" shape-rendering="crispEdges" stroke="#ff00ff" d="M133.5 932.6 135.6 932.4 137.7 932.2 139.8 932.1 141.9 932.0 144.0 932.0 147.2 932.1 150.4 932.4 153.6 932.6 156.8 932.9 160.0 933.0 168.0 933.0 176.0 933.0 184.0 933.0 192.0 933.0 200.0 933.0 206.0 932.9 212.0 932.8 218.0 932.6 224.0 932.3 230.0 932.0 233.0 931.8 236.0 931.6 239.0 931.4 242.0 931.1 245.0 930.9 248.4 930.7 251.8 930.4 255.2 930.2 258.6 929.8 262.0 929.4 265.0 928.7 268.0 927.6 271.0 926.0 274.0 924.2 277.0 922.0 278.4 920.5 279.8 918.3 281.2 916.0 282.6 913.9 284.0 912.5 284.7 912.0 285.5 911.5 286.2 911.1 287.0 910.8 287.7 910.7 288.8 910.8 289.8 911.0 290.9 911.3 291.9 911.6 293.0 912.0 294.6 912.9 296.2 914.2 297.8 915.7 299.4 917.3 301.0 918.8 302.2 920.0 303.4 921.4 304.6 922.7 305.8 923.6 307.0 924.0 308.3 923.8 309.7 923.3 311.0 922.7 312.4 922.2 313.7 922.0 315.4 922.8 317.0 924.8 318.7 927.2 320.3 929.3 322.0 930.5 324.6 931.2 327.2 931.8 329.8 932.2 332.4 932.5 335.0 932.6 337.7 932.4 340.4 931.9 343.0 931.2 345.7 930.7 348.4 930.5 349.9 930.8 351.4 931.5 353.0 932.3 354.5 933.0 356.0 933.3 360.8 933.2 365.6 933.1 370.4 932.8 375.2 932.7 380.0 932.6 384.0 932.6 388.0 932.7 392.0 932.7 396.0 932.8 400.0 932.8 403.3 932.7 406.7 932.3 410.0 931.9 413.4 931.5 416.7 931.2 420.7 931.0 424.7 930.9 428.8 930.8 432.8 930.6 436.8 930.3 438.8 929.2 440.8 926.9 442.9 924.2 444.9 922.0 446.9 921.1 448.6 922.1 450.2 924.3 451.9 927.1 453.5 929.3 455.2 930.3 456.9 929.9 458.6 929.0 460.2 927.9 461.9 926.8 463.6 926.1 465.3 925.7 467.0 925.5 468.6 925.3 470.3 925.0 472.0 924.5 473.3 923.1 474.7 920.5 476.0 917.5 477.4 915.1 478.7 914.1 480.4 914.6 482.1 915.7 483.7 917.1 485.4 918.5 487.1 919.4 488.4 919.9 489.8 920.3 491.1 920.7 492.5 921.0 493.8 921.1 495.0 919.7 496.1 916.3 497.3 912.2 498.4 908.8 499.6 907.4 501.6 909.6 503.6 914.9 505.7 921.1 507.7 926.4 509.7 928.6 511.2 928.4 512.7 927.7 514.2 926.6 515.7 925.2 517.2 923.6 518.4 920.4 519.6 914.8 520.7 908.6 521.9 903.5 523.1 901.4 525.1 903.6 527.1 908.9 529.1 915.3 531.1 920.6 533.1 922.8 534.6 921.9 536.1 919.5 537.6 916.3 539.1 913.0 540.6 910.2 542.3 907.3 544.0 904.1 545.6 901.2 547.3 899.0 549.0 898.2 550.7 900.1 552.4 904.5 554.0 909.8 555.7 914.2 557.4 916.1 558.6 915.6 559.7 914.2 560.9 912.2 562.0 909.7 563.2 906.9 564.2 902.6 565.2 896.0 566.3 888.9 567.3 883.2 568.3 880.9 569.8 884.2 571.3 892.1 572.8 901.5 574.3 909.4 575.8 912.7 577.8 910.5 579.8 905.2 581.8 898.8 583.8 893.5 585.8 891.3 587.0 892.8 588.2 896.5 589.3 900.8 590.5 904.5 591.7 906.0 592.9 904.6 594.1 901.3 595.2 897.3 596.4 894.0 597.6 892.6 598.3 892.9 599.0 893.6 599.6 894.5 600.3 895.2 601.0 895.5 601.8 895.4 602.6 894.9 603.3 894.2 604.1 893.1 604.9 891.6 605.2 889.9 605.5 886.7 605.8 882.5 606.1 877.9 606.4 873.8 606.7 869.8 607.0 865.5 607.3 861.3 607.6 857.3 607.9 854.0 608.3 850.1 608.7 846.3 609.1 843.0 609.5 840.5 609.9 839.1 610.7 837.9 611.5 837.3 612.2 836.8 613.0 836.2 613.8 835.2 614.7 832.2 615.6 827.1 616.5 821.5 617.4 817.0 618.3 815.2 619.5 818.6 620.8 826.6 622.0 836.1 623.3 844.1 624.5 847.5 625.5 844.8 626.5 837.8 627.6 828.3 628.6 818.3 629.6 809.5 630.6 801.3 631.5 791.9 632.5 783.1 633.4 776.6 634.4 774.1 635.5 777.7 636.6 786.1 637.8 796.3 638.9 804.7 640.0 808.3 640.9 805.9 641.8 800.2 642.7 793.3 643.6 787.6 644.5 785.2 645.9 785.2 647.3 785.4 648.6 785.6 650.0 786.0 651.4 786.5 652.0 788.7 652.6 793.7 653.2 799.5 653.8 804.3 654.4 806.3 655.7 805.6 657.0 803.8 658.2 801.6 659.5 799.8 660.8 799.1 661.2 800.7 661.6 804.7 662.0 810.0 662.4 815.3 662.8 819.4 663.3 823.3 663.8 827.0 664.3 830.3 664.8 833.1 665.3 835.2 666.5 838.5 667.7 840.8 668.8 842.7 670.0 844.6 671.2 847.1 672.0 849.2 672.8 851.6 673.5 854.2 674.3 856.6 675.1 858.9 676.1 861.5 677.1 864.0 678.1 866.3 679.1 868.6 680.1 870.8 681.1 873.0 682.1 875.1 683.0 877.2 684.0 879.1 685.0 880.7 686.2 882.3 687.4 883.7 688.6 885.0 689.8 886.2 691.0 887.6 691.8 888.5 692.6 889.5 693.3 890.5 694.1 891.5 694.9 892.6 695.9 894.2 696.9 896.1 697.9 898.0 698.9 899.8 699.9 901.5 700.8 903.0 701.7 904.6 702.5 906.1 703.4 907.2 704.3 907.6 705.4 907.3 706.5 906.5 707.6 905.1 708.7 903.1 709.8 900.5 710.1 898.9 710.5 896.2 710.8 892.6 711.2 888.5 711.5 884.4 712.0 875.9 712.6 864.7 713.1 853.1 713.7 843.2 714.2 837.2 714.6 834.8 715.0 832.8 715.4 831.2 715.8 830.0 716.2 829.3 716.9 828.7 717.6 828.4 718.3 828.2 719.0 827.9 719.7 827.3 720.2 825.6 720.6 822.1 721.1 817.2 721.5 811.6 722.0 805.8 722.6 795.6 723.3 782.3 723.9 767.7 724.6 753.9 725.2 742.9 725.5 738.5 725.8 734.1 726.1 730.2 726.4 727.2 726.7 725.6 727.3 724.5 727.8 723.9 728.4 723.5 728.9 722.9 729.5 722.0 730.3 717.5 731.0 708.9 731.8 698.3 732.5 688.0 733.3 680.0 733.9 675.7 734.6 672.4 735.2 669.2 735.9 665.4 736.5 660.0 737.0 653.0 737.6 643.1 738.1 630.3 738.7 614.9 739.2 597.0 739.4 589.0 739.6 579.7 739.9 568.1 740.1 553.2 740.3 534.0 740.4 524.1 740.4 509.0 740.5 493.0 740.5 480.4 740.6 475.2 741.5 479.9 742.4 491.6 743.2 507.3 744.1 523.5 745.0 537.0 745.5 544.0 746.0 551.7 746.5 558.8 747.0 564.0 747.5 566.0 748.3 565.4 749.1 563.9 749.9 562.1 750.7 560.6 751.5 560.0 752.3 560.6 753.1 562.1 753.9 563.9 754.7 565.4 755.5 566.0 756.0 564.4 756.5 560.0 757.0 553.5 757.5 545.6 758.0 537.0 758.4 527.5 758.8 514.2 759.2 499.0 759.6 484.0 760.0 471.0 760.8 445.9 761.6 419.6 762.5 396.0 763.3 378.9 764.1 372.4 764.9 376.8 765.7 388.4 766.4 404.5 767.2 422.5 768.0 440.0 768.4 450.3 768.8 462.8 769.2 475.2 769.6 485.1 770.0 490.0 771.0 493.2 772.0 494.9 773.0 496.0 774.0 497.4 775.0 500.0 775.9 507.6 776.8 521.2 777.6 536.5 778.5 548.9 779.4 554.0 780.5 547.2 781.6 530.2 782.8 508.3 783.9 486.8 785.0 471.0 785.8 464.2 786.6 459.0 787.4 454.1 788.2 448.2 789.0 440.0 789.4 433.1 789.7 423.1 790.1 412.6 790.4 404.4 790.8 401.0 791.2 403.3 791.7 408.9 792.1 416.1 792.6 423.1 793.0 428.0 793.6 432.5 794.2 436.6 794.8 440.1 795.4 442.7 796.0 444.0 796.7 444.6 797.4 444.9 798.2 445.1 798.9 445.4 799.6 446.0 800.4 452.5 801.3 466.8 802.1 483.6 803.0 497.6 803.8 503.4 804.4 499.8 805.1 490.0 805.7 475.9 806.4 459.1 807.0 441.6 807.3 432.3 807.6 421.2 807.9 408.7 808.2 395.4 808.5 382.0 808.8 367.3 809.1 350.8 809.4 334.1 809.7 318.7 810.0 306.0 810.4 292.5 810.7 279.2 811.1 267.6 811.4 259.4 811.8 256.3 811.9 259.8 812.1 268.9 812.2 281.1 812.4 294.3 812.5 306.0 812.7 320.2 812.9 334.1 813.1 348.4 813.3 364.1 813.5 382.0 813.6 393.6 813.7 407.6 813.8 421.9 813.9 434.4 814.0 443.0 814.5 469.3 815.0 491.0 815.4 507.4 815.9 517.8 816.4 521.4 817.5 518.1 818.6 509.9 819.8 499.2 820.9 488.5 822.0 480.0 822.6 476.0 823.3 471.8 823.9 468.0 824.6 465.3 825.2 464.3 825.6 466.1 825.9 470.6 826.3 476.9 826.6 483.7 827.0 490.0 827.6 502.4 828.3 517.5 828.9 532.0 829.6 543.0 830.2 547.4 830.8 544.0 831.3 535.2 831.9 523.5 832.4 510.9 833.0 500.0 833.6 489.1 834.1 476.8 834.7 465.3 835.2 456.7 835.8 453.4 836.0 456.4 836.2 464.0 836.4 474.0 836.6 484.1 836.8 492.0 837.3 506.2 837.8 519.2 838.2 530.9 838.7 541.2 839.2 550.0 840.0 562.1 840.8 572.7 841.5 582.0 842.3 590.1 843.1 597.2 843.6 601.1 844.0 604.9 844.5 608.3 844.9 611.1 845.4 613.0 846.4 615.7 847.3 618.0 848.3 619.7 849.2 620.9 850.2 621.3 851.4 620.3 852.7 617.9 853.9 615.1 855.2 612.7 856.4 611.7 856.8 612.7 857.2 615.2 857.7 619.0 858.1 623.7 858.5 628.7 859.0 638.9 859.6 654.3 860.1 671.8 860.7 688.0 861.2 700.0 861.7 706.8 862.1 712.5 862.6 717.6 863.0 722.3 863.5 727.2 864.4 737.5 865.4 747.5 866.3 757.1 867.3 766.1 868.2 774.3 869.0 781.4 869.8 788.9 870.6 795.6 871.4 800.4 872.2 802.3 873.0 800.6 873.8 796.0 874.5 789.5 875.3 782.0 876.1 774.3 876.8 767.5 877.5 759.7 878.1 750.6 878.8 739.9 879.5 727.2 879.7 721.5 879.9 713.9 880.1 706.1 880.3 700.0 880.5 697.6 881.3 700.2 882.2 706.5 883.0 714.1 883.9 720.4 884.7 723.0 885.5 720.0 886.3 712.4 887.1 701.9 887.9 690.5 888.7 680.0 890.0 664.4 891.2 647.7 892.5 630.5 893.7 613.4 895.0 597.0 895.8 587.1 896.6 577.3 897.3 567.7 898.1 558.5 898.9 550.0 900.0 540.1 901.1 532.2 902.3 524.3 903.4 514.2 904.5 500.0 904.8 494.1 905.1 485.7 905.3 476.3 905.6 467.3 905.9 460.1 906.6 445.1 907.3 430.6 908.0 418.2 908.7 409.5 909.4 406.2 910.5 408.6 911.6 414.3 912.7 421.1 913.8 426.8 914.9 429.2 915.6 426.6 916.3 420.1 917.1 411.7 917.8 403.4 918.5 397.2 919.1 393.5 919.8 390.3 920.4 387.4 921.1 384.6 921.7 381.5 922.5 377.0 923.3 371.8 924.0 366.9 924.8 363.0 925.6 361.1 926.2 360.7 926.8 360.5 927.5 360.3 928.1 360.1 928.7 359.5 928.9 355.8 929.1 347.0 929.4 336.0 929.6 325.6 929.8 318.6 930.6 303.1 931.4 289.8 932.3 279.4 933.1 272.6 933.9 270.2 934.6 273.0 935.3 280.5 936.0 291.4 936.7 304.5 937.4 318.6 937.6 324.8 937.8 333.3 938.1 341.9 938.3 348.6 938.5 351.3 939.4 350.4 940.3 348.2 941.1 345.6 942.0 343.4 942.9 342.5 943.7 344.3 944.5 348.7 945.2 353.8 946.0 358.2 946.8 360.0 947.6 359.7 948.4 358.8 949.2 357.9 950.0 357.0 950.8 356.7 951.4 360.9 952.0 370.9 952.7 382.7 953.3 392.7 953.9 396.9 955.3 394.0 956.7 387.1 958.2 379.0 959.6 372.1 961.0 369.2 961.8 370.9 962.6 375.5 963.3 382.0 964.1 389.5 964.9 397.2 965.4 402.2 965.9 408.0 966.3 414.4 966.8 421.4 967.3 428.7 967.7 436.6 968.2 446.0 968.6 455.5 969.1 464.0 969.5 470.0 970.2 476.6 971.0 481.7 971.7 486.0 972.5 489.9 973.2 494.0 973.9 497.4 974.5 500.4 975.2 503.5 975.8 507.0 976.5 511.4 977.0 516.3 977.5 522.8 977.9 530.1 978.4 537.1 978.9 542.9 979.4 547.7 979.8 552.3 980.3 556.5 980.7 559.8 981.2 561.8 982.0 563.5 982.8 564.8 983.6 565.8 984.4 566.6 985.2 567.3 986.1 568.2 987.1 569.0 988.0 569.7 989.0 570.2 989.9 570.4 990.8 570.0 991.8 569.1 992.7 568.1 993.7 567.2 994.6 566.8 995.4 569.1 996.2 574.6 996.9 581.2 997.7 586.7 998.5 589.0 999.6 586.8 1000.7 581.3 1001.8 574.0 1002.9 566.4 1004.0 560.0 1005.3 553.2 1006.5 545.8 1007.8 539.1 1009.0 534.1 1010.3 532.2 1011.4 534.8 1012.6 541.5 1013.7 550.0 1014.9 558.5 1016.0 565.0 1017.4 571.0 1018.8 577.0 1020.1 582.3 1021.5 586.0 1022.9 587.4 1023.8 586.3 1024.8 583.7 1025.7 580.7 1026.7 578.1 1027.6 577.0 1028.7 578.2 1029.8 580.9 1030.9 584.3 1032.0 587.0 1033.1 588.2 1034.7 585.0 1036.3 577.4 1037.8 568.2 1039.4 560.6 1041.0 557.4 1041.8 559.5 1042.6 565.0 1043.3 572.7 1044.1 581.5 1044.9 590.1 1045.4 595.7 1045.9 602.2 1046.3 609.0 1046.8 615.6 1047.3 621.5 1047.8 626.6 1048.2 631.7 1048.7 636.3 1049.1 640.4 1049.6 643.5 1050.5 648.1 1051.5 651.7 1052.4 654.7 1053.4 657.6 1054.3 660.8 1055.1 663.7 1055.9 666.5 1056.7 669.4 1057.5 672.7 1058.3 676.5 1058.9 680.5 1059.5 685.6 1060.2 691.0 1060.8 696.1 1061.4 700.1 1062.5 705.4 1063.6 709.9 1064.7 713.8 1065.8 717.3 1066.9 720.6 1067.8 722.9 1068.7 724.8 1069.6 726.7 1070.5 728.8 1071.4 731.4 1072.5 735.8 1073.6 741.6 1074.7 748.3 1075.8 755.5 1076.9 762.9 1077.7 768.7 1078.5 775.0 1079.3 781.6 1080.1 788.2 1080.9 794.3 1081.8 801.1 1082.8 807.7 1083.7 814.1 1084.7 820.2 1085.6 825.8 1086.5 830.9 1087.5 835.5 1088.4 840.0 1089.4 844.5 1090.3 849.4 1091.1 854.0 1091.9 859.0 1092.6 864.1 1093.4 868.9 1094.2 873.0 1095.0 876.7 1095.8 880.2 1096.6 883.4 1097.4 886.3 1098.2 888.7 1099.5 891.8 1100.7 894.4 1102.0 896.7 1103.2 898.9 1104.5 901.3 1105.8 903.9 1107.0 906.6 1108.3 909.2 1109.5 911.7 1110.8 913.8 1111.7 915.3 1112.7 916.9 1113.6 918.3 1114.6 919.4 1115.5 919.8 1117.4 919.9 1119.3 919.9 1121.1 920.0 1123.0 920.0 1124.9 920.1 1126.5 920.7 1128.1 921.8 1129.6 923.2 1131.2 924.3 1132.8 924.8 1134.1 924.6 1135.3 924.0 1136.6 923.3 1137.8 922.7 1139.1 922.5 1140.7 922.8 1142.2 923.4 1143.8 924.2 1145.3 925.0 1146.9 925.6 1148.8 926.2 1150.7 926.7 1152.6 927.2 1154.5 927.6 1156.4 927.7 1157.6 927.5 1158.9 927.1 1160.1 926.6 1161.4 926.1 1162.6 925.9 1164.2 925.8 1165.8 925.8 1167.3 925.7 1168.9 925.7 1170.5 925.6 1171.4 925.4 1172.4 924.8 1173.3 924.1 1174.3 923.3 1175.2 922.5 1176.1 921.6 1177.0 920.4 1177.8 919.3 1178.7 918.4 1179.6 918.1 1180.8 918.8 1181.9 920.5 1183.1 922.4 1184.2 924.1 1185.4 924.8 1186.5 924.5 1187.6 923.8 1188.7 923.0 1189.8 922.3 1190.9 922.0 1192.2 922.4 1193.4 923.4 1194.7 924.7 1195.9 926.1 1197.2 927.2 1199.1 928.6 1201.0 930.1 1202.9 931.4 1204.8 932.3 1206.7 932.7 1208.0 932.6 1209.2 932.4 1210.5 932.2 1211.7 932.0 1213.0 931.9 1214.6 932.0 1216.1 932.1 1217.7 932.3 1219.2 932.6 1220.8 932.7 1223.1 932.8 1225.5 933.0 1227.8 933.1 1230.2 933.2 1232.5 933.2 1234.3 933.2"/>
<text transform="translate(252.00 891.00) scale(1.0000 1.0600)" font-size="73" font-weight="bold">20 min</text>
<text transform="translate(255.50 971.80) scale(1.0000 1.0600)" font-size="73" font-weight="bold">16 min</text>
<text transform="translate(252.70 1053.70) scale(1.0000 1.0600)" font-size="73" font-weight="bold">14 min</text>
<text transform="translate(255.50 1125.80) scale(1.0000 1.0600)" font-size="73" font-weight="bold">10 min</text>
<text transform="translate(255.20 1187.20) scale(1.0000 1.0600)" font-size="73" font-weight="bold">6 min</text>
<text transform="translate(255.00 1259.80) scale(1.0000 1.0600)" font-size="73" font-weight="bold">2 min</text>
<g><rect x="969.35" y="111.00" width="3.30" height="41.50" fill="#000"/><polygon points="963.25,151.50 978.75,151.50 971.00,178.00" fill="#000"/><rect x="1087.95" y="114.50" width="3.30" height="250.90" fill="#000"/><polygon points="1081.85,364.40 1097.35,364.40 1089.60,390.90" fill="#000"/><rect x="610.65" y="436.40" width="3.30" height="199.00" fill="#000"/><polygon points="604.55,634.40 620.05,634.40 612.30,660.90" fill="#000"/><line x1="556.50" y1="306.90" x2="654.59" y2="253.66" stroke="#000" stroke-width="3.30"/><polygon points="657.41,260.95 650.01,247.33 677.00,241.50" fill="#000"/></g>
<text transform="translate(45.50 1505.50) scale(1.0000 1.0600)" font-size="73" font-weight="bold">2000</text>
<text transform="translate(320.00 1505.50) scale(1.0000 1.0600)" font-size="73" font-weight="bold">1800</text>
<text transform="translate(596.00 1505.50) scale(1.0000 1.0600)" font-size="73" font-weight="bold">1600</text>
<text transform="translate(870.00 1505.50) scale(1.0000 1.0600)" font-size="73" font-weight="bold">1400</text>
<text transform="translate(1144.70 1505.50) scale(1.0000 1.0600)" font-size="73" font-weight="bold">1200</text>
<text transform="translate(288.80 1627.20)" font-size="98" font-weight="bold">Wavenumber / cm</text>
<text transform="translate(1056.50 1587.90) scale(1.0000 1.0600)" font-size="73" font-weight="bold">-1</text>
<text transform="translate(97.20 911.50) rotate(-90) scale(1.0000 1.0370)" font-size="100" font-weight="bold">K-M / a.u.</text>
<text transform="translate(717.50 229.60) scale(1.0000 1.0600)" font-size="73" font-weight="bold">1523</text>
<text transform="translate(897.00 249.00) scale(1.0000 1.0600)" font-size="73" font-weight="bold">1411</text>
<text transform="translate(574.80 735.80) scale(1.0000 1.0600)" font-size="73" font-weight="bold">1628</text>
<text transform="translate(1006.00 481.80) scale(1.0000 1.0600)" font-size="73" font-weight="bold">1353</text>
<text transform="translate(727.80 101.00)" font-size="60.9" font-weight="normal">monodentate nitrite</text>
<text transform="translate(311.00 388.10)" font-size="61.3" font-weight="normal">adsorbed NO</text>
<text transform="translate(635.00 413.00)" font-size="33" font-weight="normal">2</text>
</svg></body></html>
